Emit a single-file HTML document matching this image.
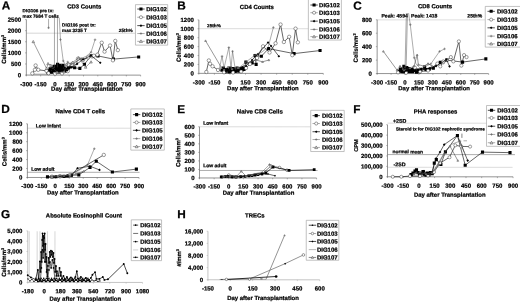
<!DOCTYPE html>
<html><head><meta charset="utf-8"><title>Figure</title>
<style>
html,body{margin:0;padding:0;background:#fff;}
body{width:520px;height:303px;overflow:hidden;font-family:"Liberation Sans",sans-serif;}
svg{display:block;filter:blur(0.3px);}
svg text{font-family:"Liberation Sans",sans-serif;font-weight:bold;text-rendering:geometricPrecision;stroke:#000;stroke-width:0.22px;}
svg polyline{stroke-linejoin:round;}
</style></head><body>
<svg width="520" height="303" viewBox="0 0 520 303">
<rect width="520" height="303" fill="#fff"/>
<g transform="rotate(0.03 260 151)">
<text x="1.6" y="9.6" font-size="11.8">A</text>
<text x="84.2" y="8.7" font-size="5.95" text-anchor="middle">CD3 Counts</text>
<path d="M26.3 33.3L135.4 33.3" stroke="#bbb" stroke-width="0.6"/>
<path d="M26.3 19.7L26.3 75.5" stroke="#666" stroke-width="0.7"/>
<path d="M26 75.2L140.6 75.2" stroke="#666" stroke-width="0.7"/>
<path d="M26.3 75.2L26.3 76.5" stroke="#666" stroke-width="0.5"/>
<text x="26.3" y="86.3" font-size="6" text-anchor="middle">-300</text>
<path d="M40.59 75.2L40.59 76.5" stroke="#666" stroke-width="0.5"/>
<text x="40.59" y="86.3" font-size="6" text-anchor="middle">-150</text>
<path d="M54.88 75.2L54.88 76.5" stroke="#666" stroke-width="0.5"/>
<text x="54.88" y="86.3" font-size="6" text-anchor="middle">0</text>
<path d="M69.16 75.2L69.16 76.5" stroke="#666" stroke-width="0.5"/>
<text x="69.16" y="86.3" font-size="6" text-anchor="middle">150</text>
<path d="M83.45 75.2L83.45 76.5" stroke="#666" stroke-width="0.5"/>
<text x="83.45" y="86.3" font-size="6" text-anchor="middle">300</text>
<path d="M97.74 75.2L97.74 76.5" stroke="#666" stroke-width="0.5"/>
<text x="97.74" y="86.3" font-size="6" text-anchor="middle">450</text>
<path d="M112.02 75.2L112.02 76.5" stroke="#666" stroke-width="0.5"/>
<text x="112.02" y="86.3" font-size="6" text-anchor="middle">600</text>
<path d="M126.31 75.2L126.31 76.5" stroke="#666" stroke-width="0.5"/>
<text x="126.31" y="86.3" font-size="6" text-anchor="middle">750</text>
<path d="M140.6 75.2L140.6 76.5" stroke="#666" stroke-width="0.5"/>
<text x="140.6" y="86.3" font-size="6" text-anchor="middle">900</text>
<path d="M25 75.2L26.3 75.2" stroke="#666" stroke-width="0.5"/>
<text x="21" y="77.35" font-size="6" text-anchor="end">0</text>
<path d="M25 64.1L26.3 64.1" stroke="#666" stroke-width="0.5"/>
<text x="21" y="66.25" font-size="6" text-anchor="end">500</text>
<path d="M25 53L26.3 53" stroke="#666" stroke-width="0.5"/>
<text x="21" y="55.15" font-size="6" text-anchor="end">1000</text>
<path d="M25 41.9L26.3 41.9" stroke="#666" stroke-width="0.5"/>
<text x="21" y="44.05" font-size="6" text-anchor="end">1500</text>
<path d="M25 30.8L26.3 30.8" stroke="#666" stroke-width="0.5"/>
<text x="21" y="32.95" font-size="6" text-anchor="end">2000</text>
<path d="M25 19.7L26.3 19.7" stroke="#666" stroke-width="0.5"/>
<text x="21" y="21.85" font-size="6" text-anchor="end">2500</text>
<text x="6" y="49.5" font-size="6.05" text-anchor="middle" transform="rotate(-90 6 49.5)">Cells/mm<tspan font-size="3.8" dy="-2">3</tspan></text>
<text x="86.9" y="90.8" font-size="5.98" text-anchor="middle">Day after Transplantation</text>
<text x="22.5" y="12.4" font-size="4.6">DIG106 pre tx:</text>
<text x="22.5" y="17.9" font-size="4.6">max 7684 T cells</text>
<text x="62" y="26.6" font-size="4.6">DIG106 post tx:</text>
<text x="62" y="32.1" font-size="4.6">max 3235 T</text>
<text x="118.8" y="32.1" font-size="4.7">25th%</text>
<polyline points="32.3,74.3 46,74.3" fill="none" stroke="#555" stroke-width="0.5"/>
<polyline points="48,73 49.5,71 50,69 51.5,72 52.5,68.5 53.5,71 54,66.5 55,69.5 55.5,72 56,66.5 57.3,69 57.5,64.5 58.5,65.6 58.5,71 59.5,68 60,65.5 60.5,70.5 61.3,69.6 62,67 63,71 63,65.5 64.8,68.5 65.5,71 66.5,69.5 68.5,68 71.1,66.7 74.6,67.9 79.8,68.5 84.4,64.4 91,55.8 97.9,56 113.4,59.2 138.6,57" fill="none" stroke="#000" stroke-width="0.6"/>
<rect x="46.45" y="71.45" width="3.1" height="3.1" fill="#000"/>
<rect x="47.95" y="69.45" width="3.1" height="3.1" fill="#000"/>
<rect x="48.45" y="67.45" width="3.1" height="3.1" fill="#000"/>
<rect x="49.95" y="70.45" width="3.1" height="3.1" fill="#000"/>
<rect x="50.95" y="66.95" width="3.1" height="3.1" fill="#000"/>
<rect x="51.95" y="69.45" width="3.1" height="3.1" fill="#000"/>
<rect x="52.45" y="64.95" width="3.1" height="3.1" fill="#000"/>
<rect x="53.45" y="67.95" width="3.1" height="3.1" fill="#000"/>
<rect x="53.95" y="70.45" width="3.1" height="3.1" fill="#000"/>
<rect x="54.45" y="64.95" width="3.1" height="3.1" fill="#000"/>
<rect x="55.75" y="67.45" width="3.1" height="3.1" fill="#000"/>
<rect x="55.95" y="62.95" width="3.1" height="3.1" fill="#000"/>
<rect x="56.95" y="64.05" width="3.1" height="3.1" fill="#000"/>
<rect x="56.95" y="69.45" width="3.1" height="3.1" fill="#000"/>
<rect x="57.95" y="66.45" width="3.1" height="3.1" fill="#000"/>
<rect x="58.45" y="63.95" width="3.1" height="3.1" fill="#000"/>
<rect x="58.95" y="68.95" width="3.1" height="3.1" fill="#000"/>
<rect x="59.75" y="68.05" width="3.1" height="3.1" fill="#000"/>
<rect x="60.45" y="65.45" width="3.1" height="3.1" fill="#000"/>
<rect x="61.45" y="69.45" width="3.1" height="3.1" fill="#000"/>
<rect x="61.45" y="63.95" width="3.1" height="3.1" fill="#000"/>
<rect x="63.25" y="66.95" width="3.1" height="3.1" fill="#000"/>
<rect x="63.95" y="69.45" width="3.1" height="3.1" fill="#000"/>
<rect x="64.95" y="67.95" width="3.1" height="3.1" fill="#000"/>
<rect x="66.95" y="66.45" width="3.1" height="3.1" fill="#000"/>
<rect x="69.55" y="65.15" width="3.1" height="3.1" fill="#000"/>
<rect x="73.05" y="66.35" width="3.1" height="3.1" fill="#000"/>
<rect x="78.25" y="66.95" width="3.1" height="3.1" fill="#000"/>
<rect x="82.85" y="62.85" width="3.1" height="3.1" fill="#000"/>
<rect x="89.45" y="54.25" width="3.1" height="3.1" fill="#000"/>
<rect x="96.35" y="54.45" width="3.1" height="3.1" fill="#000"/>
<rect x="111.85" y="57.65" width="3.1" height="3.1" fill="#000"/>
<rect x="137.05" y="55.45" width="3.1" height="3.1" fill="#000"/>
<polyline points="32.3,73.5 34.9,69.9 35.6,65.6 38.2,69.9 46.5,71 48.5,73.3 55,73.8 62,73.5 67.7,71.3 71.7,65 75.8,63.3 78,58.7 83,60 88,57.5 92,56.5 93.8,55.8 97.3,54.8 101.7,42.8 104.5,51.7 110,45.6 112.9,60.4 115.2,41 117.8,50.2" fill="none" stroke="#000" stroke-width="0.6"/>
<circle cx="32.3" cy="73.5" r="1.71" fill="#fff" stroke="#3a3a3a" stroke-width="0.5"/>
<circle cx="34.9" cy="69.9" r="1.71" fill="#fff" stroke="#3a3a3a" stroke-width="0.5"/>
<circle cx="35.6" cy="65.6" r="1.71" fill="#fff" stroke="#3a3a3a" stroke-width="0.5"/>
<circle cx="38.2" cy="69.9" r="1.71" fill="#fff" stroke="#3a3a3a" stroke-width="0.5"/>
<circle cx="46.5" cy="71" r="1.71" fill="#fff" stroke="#3a3a3a" stroke-width="0.5"/>
<circle cx="48.5" cy="73.3" r="1.71" fill="#fff" stroke="#3a3a3a" stroke-width="0.5"/>
<circle cx="55" cy="73.8" r="1.71" fill="#fff" stroke="#3a3a3a" stroke-width="0.5"/>
<circle cx="62" cy="73.5" r="1.71" fill="#fff" stroke="#3a3a3a" stroke-width="0.5"/>
<circle cx="67.7" cy="71.3" r="1.71" fill="#fff" stroke="#3a3a3a" stroke-width="0.5"/>
<circle cx="71.7" cy="65" r="1.71" fill="#fff" stroke="#3a3a3a" stroke-width="0.5"/>
<circle cx="75.8" cy="63.3" r="1.71" fill="#fff" stroke="#3a3a3a" stroke-width="0.5"/>
<circle cx="78" cy="58.7" r="1.71" fill="#fff" stroke="#3a3a3a" stroke-width="0.5"/>
<circle cx="83" cy="60" r="1.71" fill="#fff" stroke="#3a3a3a" stroke-width="0.5"/>
<circle cx="88" cy="57.5" r="1.71" fill="#fff" stroke="#3a3a3a" stroke-width="0.5"/>
<circle cx="92" cy="56.5" r="1.71" fill="#fff" stroke="#3a3a3a" stroke-width="0.5"/>
<circle cx="93.8" cy="55.8" r="1.71" fill="#fff" stroke="#3a3a3a" stroke-width="0.5"/>
<circle cx="97.3" cy="54.8" r="1.71" fill="#fff" stroke="#3a3a3a" stroke-width="0.5"/>
<circle cx="101.7" cy="42.8" r="1.71" fill="#fff" stroke="#3a3a3a" stroke-width="0.5"/>
<circle cx="104.5" cy="51.7" r="1.71" fill="#fff" stroke="#3a3a3a" stroke-width="0.5"/>
<circle cx="110" cy="45.6" r="1.71" fill="#fff" stroke="#3a3a3a" stroke-width="0.5"/>
<circle cx="112.9" cy="60.4" r="1.71" fill="#fff" stroke="#3a3a3a" stroke-width="0.5"/>
<circle cx="115.2" cy="41" r="1.71" fill="#fff" stroke="#3a3a3a" stroke-width="0.5"/>
<circle cx="117.8" cy="50.2" r="1.71" fill="#fff" stroke="#3a3a3a" stroke-width="0.5"/>
<polyline points="51,72.5 55,70.5 59,71.5 63,69.5 67,70.5 71,67.5 77,64 83,59.5 91,55.8 100.2,62.9" fill="none" stroke="#000" stroke-width="0.6"/>
<path d="M51 71.2L52.3 72.5L51 73.8L49.7 72.5Z" fill="#000"/>
<path d="M55 69.2L56.3 70.5L55 71.8L53.7 70.5Z" fill="#000"/>
<path d="M59 70.2L60.3 71.5L59 72.8L57.7 71.5Z" fill="#000"/>
<path d="M63 68.2L64.3 69.5L63 70.8L61.7 69.5Z" fill="#000"/>
<path d="M67 69.2L68.3 70.5L67 71.8L65.7 70.5Z" fill="#000"/>
<path d="M71 66.2L72.3 67.5L71 68.8L69.7 67.5Z" fill="#000"/>
<path d="M77 62.7L78.3 64L77 65.3L75.7 64Z" fill="#000"/>
<path d="M83 58.2L84.3 59.5L83 60.8L81.7 59.5Z" fill="#000"/>
<path d="M91 54.5L92.3 55.8L91 57.1L89.7 55.8Z" fill="#000"/>
<path d="M100.2 61.6L101.5 62.9L100.2 64.2L98.9 62.9Z" fill="#000"/>
<path d="M48.5 18.9L48.5 28.5" stroke="#5a5a5a" stroke-width="0.5"/>
<path d="M47.2 27.9H49.8M48.5 26.6V29.2" fill="none" stroke="#555" stroke-width="0.5"/>
<polyline points="50,66 52.5,69 54.4,67" fill="none" stroke="#5a5a5a" stroke-width="0.45"/>
<path d="M54.4 17.8L54.4 68" stroke="#555" stroke-width="0.5"/>
<path d="M57.4 17.8L57.4 67" stroke="#555" stroke-width="0.5"/>
<polyline points="59.2,17.8 60.4,39.7 63.2,61.1 66.5,66.5 67.7,62.1 71,64.5 76,62.5 81,58.5 86,56.5 91,52.3 95,39.8" fill="none" stroke="#5a5a5a" stroke-width="0.5"/>
<path d="M59.1 39.7H61.7M60.4 38.4V41" fill="none" stroke="#555" stroke-width="0.5"/>
<path d="M93.7 39.8H96.3M95 38.5V41.1" fill="none" stroke="#555" stroke-width="0.5"/>
<path d="M61.9 61.1H64.5M63.2 59.8V62.4" fill="none" stroke="#555" stroke-width="0.5"/>
<path d="M66.4 62.1H69M67.7 60.8V63.4" fill="none" stroke="#555" stroke-width="0.5"/>
<path d="M69.7 64.5H72.3M71 63.2V65.8" fill="none" stroke="#555" stroke-width="0.5"/>
<path d="M79.7 58.5H82.3M81 57.2V59.8" fill="none" stroke="#555" stroke-width="0.5"/>
<path d="M89.7 52.3H92.3M91 51V53.6" fill="none" stroke="#555" stroke-width="0.5"/>
<polyline points="33.2,41.8 46.5,68.6 48,63.8 50.8,65.4 57,72.5 64,72 66.5,64.5 72.5,62.5 78.6,58 85.6,67.3 91,62.1" fill="none" stroke="#444" stroke-width="0.5"/>
<path d="M33.2 40.52L34.48 42.82L31.93 42.82Z" fill="#ddd" stroke="#444" stroke-width="0.5"/>
<path d="M46.5 67.32L47.77 69.62L45.23 69.62Z" fill="#ddd" stroke="#444" stroke-width="0.5"/>
<path d="M48 62.52L49.27 64.82L46.73 64.82Z" fill="#ddd" stroke="#444" stroke-width="0.5"/>
<path d="M50.8 64.12L52.07 66.42L49.52 66.42Z" fill="#ddd" stroke="#444" stroke-width="0.5"/>
<path d="M57 71.22L58.27 73.52L55.73 73.52Z" fill="#ddd" stroke="#444" stroke-width="0.5"/>
<path d="M64 70.72L65.28 73.02L62.73 73.02Z" fill="#ddd" stroke="#444" stroke-width="0.5"/>
<path d="M66.5 63.23L67.78 65.52L65.22 65.52Z" fill="#ddd" stroke="#444" stroke-width="0.5"/>
<path d="M72.5 61.23L73.78 63.52L71.22 63.52Z" fill="#ddd" stroke="#444" stroke-width="0.5"/>
<path d="M78.6 56.73L79.88 59.02L77.32 59.02Z" fill="#ddd" stroke="#444" stroke-width="0.5"/>
<path d="M85.6 66.02L86.88 68.32L84.32 68.32Z" fill="#ddd" stroke="#444" stroke-width="0.5"/>
<path d="M91 60.83L92.28 63.12L89.72 63.12Z" fill="#ddd" stroke="#444" stroke-width="0.5"/>
<rect x="135.4" y="4.7" width="32.2" height="40.5" fill="#fff" stroke="#999" stroke-width="0.6"/>
<path d="M137.2 9.1L144.6 9.1" stroke="#000" stroke-width="0.7"/>
<rect x="139.35" y="7.55" width="3.1" height="3.1" fill="#000"/>
<text x="146.1" y="11.25" font-size="6">DIG102</text>
<path d="M137.2 17.3L144.6 17.3" stroke="#888" stroke-width="0.7"/>
<circle cx="140.9" cy="17.3" r="1.55" fill="#fff" stroke="#3a3a3a" stroke-width="0.5"/>
<text x="146.1" y="19.45" font-size="6">DIG103</text>
<path d="M137.2 25.7L144.6 25.7" stroke="#000" stroke-width="0.7"/>
<path d="M140.9 24.4L142.2 25.7L140.9 27L139.6 25.7Z" fill="#000"/>
<text x="146.1" y="27.85" font-size="6">DIG105</text>
<path d="M137.2 33.6L144.6 33.6" stroke="#888" stroke-width="0.7"/>
<path d="M139.6 33.6H142.2M140.9 32.3V34.9" fill="none" stroke="#555" stroke-width="0.5"/>
<text x="146.1" y="35.75" font-size="6">DIG106</text>
<path d="M137.2 41.4L144.6 41.4" stroke="#888" stroke-width="0.7"/>
<path d="M140.9 39.9L142.4 42.6L139.4 42.6Z" fill="#ddd" stroke="#444" stroke-width="0.5"/>
<text x="146.1" y="43.55" font-size="6">DIG107</text>
<text x="177.3" y="9.6" font-size="11.8">B</text>
<text x="256.8" y="9" font-size="5.95" text-anchor="middle">CD4 Counts</text>
<path d="M198.8 28.7L308.3 28.7" stroke="#c4c4c4" stroke-width="0.6"/>
<path d="M198.8 19.9L198.8 73.7" stroke="#666" stroke-width="0.7"/>
<path d="M198.5 73.4L323.3 73.4" stroke="#666" stroke-width="0.7"/>
<path d="M198.8 73.4L198.8 74.7" stroke="#666" stroke-width="0.5"/>
<text x="198.8" y="84.5" font-size="6" text-anchor="middle">-300</text>
<path d="M214.36 73.4L214.36 74.7" stroke="#666" stroke-width="0.5"/>
<text x="214.36" y="84.5" font-size="6" text-anchor="middle">-150</text>
<path d="M229.93 73.4L229.93 74.7" stroke="#666" stroke-width="0.5"/>
<text x="229.93" y="84.5" font-size="6" text-anchor="middle">0</text>
<path d="M245.49 73.4L245.49 74.7" stroke="#666" stroke-width="0.5"/>
<text x="245.49" y="84.5" font-size="6" text-anchor="middle">150</text>
<path d="M261.05 73.4L261.05 74.7" stroke="#666" stroke-width="0.5"/>
<text x="261.05" y="84.5" font-size="6" text-anchor="middle">300</text>
<path d="M276.61 73.4L276.61 74.7" stroke="#666" stroke-width="0.5"/>
<text x="276.61" y="84.5" font-size="6" text-anchor="middle">450</text>
<path d="M292.18 73.4L292.18 74.7" stroke="#666" stroke-width="0.5"/>
<text x="292.18" y="84.5" font-size="6" text-anchor="middle">600</text>
<path d="M307.74 73.4L307.74 74.7" stroke="#666" stroke-width="0.5"/>
<text x="307.74" y="84.5" font-size="6" text-anchor="middle">750</text>
<path d="M323.3 73.4L323.3 74.7" stroke="#666" stroke-width="0.5"/>
<text x="323.3" y="84.5" font-size="6" text-anchor="middle">900</text>
<path d="M197.5 73.4L198.8 73.4" stroke="#666" stroke-width="0.5"/>
<text x="193.8" y="75.55" font-size="6" text-anchor="end">0</text>
<path d="M197.5 64.48L198.8 64.48" stroke="#666" stroke-width="0.5"/>
<text x="193.8" y="66.63" font-size="6" text-anchor="end">200</text>
<path d="M197.5 55.57L198.8 55.57" stroke="#666" stroke-width="0.5"/>
<text x="193.8" y="57.72" font-size="6" text-anchor="end">400</text>
<path d="M197.5 46.65L198.8 46.65" stroke="#666" stroke-width="0.5"/>
<text x="193.8" y="48.8" font-size="6" text-anchor="end">600</text>
<path d="M197.5 37.73L198.8 37.73" stroke="#666" stroke-width="0.5"/>
<text x="193.8" y="39.88" font-size="6" text-anchor="end">800</text>
<path d="M197.5 28.82L198.8 28.82" stroke="#666" stroke-width="0.5"/>
<text x="193.8" y="30.97" font-size="6" text-anchor="end">1000</text>
<path d="M197.5 19.9L198.8 19.9" stroke="#666" stroke-width="0.5"/>
<text x="193.8" y="22.05" font-size="6" text-anchor="end">1200</text>
<text x="180.6" y="47.6" font-size="6.05" text-anchor="middle" transform="rotate(-90 180.6 47.6)">Cells/mm<tspan font-size="3.8" dy="-2">3</tspan></text>
<text x="262.9" y="90.3" font-size="5.98" text-anchor="middle">Day after Transplantation</text>
<text x="207" y="27.3" font-size="4.7">25th%</text>
<polyline points="222,70 223.5,68 225,72 226.5,69.5 228,70 229,72 230,68 231,70 232,71 233,68.5 234,69 235,71.5 236,71 237,68 238,69 239,71 240,71 241,68.5 242,70 243,67.5 244,69.5 245.8,62.1 252.1,62.9 256.1,64.4 255,55.6 261.3,56.3 268.5,48.6 294,53.6 320,50.5" fill="none" stroke="#000" stroke-width="0.6"/>
<rect x="220.45" y="68.45" width="3.1" height="3.1" fill="#000"/>
<rect x="221.95" y="66.45" width="3.1" height="3.1" fill="#000"/>
<rect x="223.45" y="70.45" width="3.1" height="3.1" fill="#000"/>
<rect x="224.95" y="67.95" width="3.1" height="3.1" fill="#000"/>
<rect x="226.45" y="68.45" width="3.1" height="3.1" fill="#000"/>
<rect x="227.45" y="70.45" width="3.1" height="3.1" fill="#000"/>
<rect x="228.45" y="66.45" width="3.1" height="3.1" fill="#000"/>
<rect x="229.45" y="68.45" width="3.1" height="3.1" fill="#000"/>
<rect x="230.45" y="69.45" width="3.1" height="3.1" fill="#000"/>
<rect x="231.45" y="66.95" width="3.1" height="3.1" fill="#000"/>
<rect x="232.45" y="67.45" width="3.1" height="3.1" fill="#000"/>
<rect x="233.45" y="69.95" width="3.1" height="3.1" fill="#000"/>
<rect x="234.45" y="69.45" width="3.1" height="3.1" fill="#000"/>
<rect x="235.45" y="66.45" width="3.1" height="3.1" fill="#000"/>
<rect x="236.45" y="67.45" width="3.1" height="3.1" fill="#000"/>
<rect x="237.45" y="69.45" width="3.1" height="3.1" fill="#000"/>
<rect x="238.45" y="69.45" width="3.1" height="3.1" fill="#000"/>
<rect x="239.45" y="66.95" width="3.1" height="3.1" fill="#000"/>
<rect x="240.45" y="68.45" width="3.1" height="3.1" fill="#000"/>
<rect x="241.45" y="65.95" width="3.1" height="3.1" fill="#000"/>
<rect x="242.45" y="67.95" width="3.1" height="3.1" fill="#000"/>
<rect x="244.25" y="60.55" width="3.1" height="3.1" fill="#000"/>
<rect x="250.55" y="61.35" width="3.1" height="3.1" fill="#000"/>
<rect x="254.55" y="62.85" width="3.1" height="3.1" fill="#000"/>
<rect x="253.45" y="54.05" width="3.1" height="3.1" fill="#000"/>
<rect x="259.75" y="54.75" width="3.1" height="3.1" fill="#000"/>
<rect x="266.95" y="47.05" width="3.1" height="3.1" fill="#000"/>
<rect x="292.45" y="52.05" width="3.1" height="3.1" fill="#000"/>
<rect x="318.45" y="48.95" width="3.1" height="3.1" fill="#000"/>
<polyline points="206.3,72 208.8,60.5 210,63.8 212.5,66.3 218,70 224,72.3 233,72.5 241,71.5 246,68 250,64 257,58 263,46.3 269.5,52.5 275.5,43.3 280.5,24.5 283.8,42 289.1,36.8 292.2,55.2 295.5,28.6 297.8,42.3" fill="none" stroke="#000" stroke-width="0.6"/>
<circle cx="206.3" cy="72" r="1.71" fill="#fff" stroke="#3a3a3a" stroke-width="0.5"/>
<circle cx="208.8" cy="60.5" r="1.71" fill="#fff" stroke="#3a3a3a" stroke-width="0.5"/>
<circle cx="210" cy="63.8" r="1.71" fill="#fff" stroke="#3a3a3a" stroke-width="0.5"/>
<circle cx="212.5" cy="66.3" r="1.71" fill="#fff" stroke="#3a3a3a" stroke-width="0.5"/>
<circle cx="218" cy="70" r="1.71" fill="#fff" stroke="#3a3a3a" stroke-width="0.5"/>
<circle cx="224" cy="72.3" r="1.71" fill="#fff" stroke="#3a3a3a" stroke-width="0.5"/>
<circle cx="233" cy="72.5" r="1.71" fill="#fff" stroke="#3a3a3a" stroke-width="0.5"/>
<circle cx="241" cy="71.5" r="1.71" fill="#fff" stroke="#3a3a3a" stroke-width="0.5"/>
<circle cx="246" cy="68" r="1.71" fill="#fff" stroke="#3a3a3a" stroke-width="0.5"/>
<circle cx="250" cy="64" r="1.71" fill="#fff" stroke="#3a3a3a" stroke-width="0.5"/>
<circle cx="257" cy="58" r="1.71" fill="#fff" stroke="#3a3a3a" stroke-width="0.5"/>
<circle cx="263" cy="46.3" r="1.71" fill="#fff" stroke="#3a3a3a" stroke-width="0.5"/>
<circle cx="269.5" cy="52.5" r="1.71" fill="#fff" stroke="#3a3a3a" stroke-width="0.5"/>
<circle cx="275.5" cy="43.3" r="1.71" fill="#fff" stroke="#3a3a3a" stroke-width="0.5"/>
<circle cx="280.5" cy="24.5" r="1.71" fill="#fff" stroke="#3a3a3a" stroke-width="0.5"/>
<circle cx="283.8" cy="42" r="1.71" fill="#fff" stroke="#3a3a3a" stroke-width="0.5"/>
<circle cx="289.1" cy="36.8" r="1.71" fill="#fff" stroke="#3a3a3a" stroke-width="0.5"/>
<circle cx="292.2" cy="55.2" r="1.71" fill="#fff" stroke="#3a3a3a" stroke-width="0.5"/>
<circle cx="295.5" cy="28.6" r="1.71" fill="#fff" stroke="#3a3a3a" stroke-width="0.5"/>
<circle cx="297.8" cy="42.3" r="1.71" fill="#fff" stroke="#3a3a3a" stroke-width="0.5"/>
<polyline points="226,71 230,72 234,70 238,71 242,69 246,66 252,60 258,54 268,42.5 271,46 278.8,56.3" fill="none" stroke="#000" stroke-width="0.6"/>
<path d="M226 69.7L227.3 71L226 72.3L224.7 71Z" fill="#000"/>
<path d="M230 70.7L231.3 72L230 73.3L228.7 72Z" fill="#000"/>
<path d="M234 68.7L235.3 70L234 71.3L232.7 70Z" fill="#000"/>
<path d="M238 69.7L239.3 71L238 72.3L236.7 71Z" fill="#000"/>
<path d="M242 67.7L243.3 69L242 70.3L240.7 69Z" fill="#000"/>
<path d="M246 64.7L247.3 66L246 67.3L244.7 66Z" fill="#000"/>
<path d="M252 58.7L253.3 60L252 61.3L250.7 60Z" fill="#000"/>
<path d="M258 52.7L259.3 54L258 55.3L256.7 54Z" fill="#000"/>
<path d="M268 41.2L269.3 42.5L268 43.8L266.7 42.5Z" fill="#000"/>
<path d="M271 44.7L272.3 46L271 47.3L269.7 46Z" fill="#000"/>
<path d="M278.8 55L280.1 56.3L278.8 57.6L277.5 56.3Z" fill="#000"/>
<polyline points="219,70 222,56.3 224,68 228.8,47.5 231,68 232.5,51.3 235,68 240,67 246,62 255,55 262,52 268.2,46.8 273.3,27.4" fill="none" stroke="#5a5a5a" stroke-width="0.5"/>
<path d="M220.7 56.3H223.3M222 55V57.6" fill="none" stroke="#555" stroke-width="0.5"/>
<path d="M227.5 47.5H230.1M228.8 46.2V48.8" fill="none" stroke="#555" stroke-width="0.5"/>
<path d="M231.2 51.3H233.8M232.5 50V52.6" fill="none" stroke="#555" stroke-width="0.5"/>
<path d="M253.7 55H256.3M255 53.7V56.3" fill="none" stroke="#555" stroke-width="0.5"/>
<path d="M272 27.4H274.6M273.3 26.1V28.7" fill="none" stroke="#555" stroke-width="0.5"/>
<path d="M244.7 62H247.3M246 60.7V63.3" fill="none" stroke="#555" stroke-width="0.5"/>
<polyline points="205.5,40.8 221.3,67.5 224,70 228,67 232,69 238,68 244,66 250,62 256,60 262.5,61.8 268.8,60" fill="none" stroke="#333" stroke-width="0.5"/>
<path d="M205.5 39.9L206.4 41.52L204.6 41.52Z" fill="#ddd" stroke="#444" stroke-width="0.5"/>
<path d="M221.3 66.6L222.2 68.22L220.4 68.22Z" fill="#ddd" stroke="#444" stroke-width="0.5"/>
<path d="M224 69.1L224.9 70.72L223.1 70.72Z" fill="#ddd" stroke="#444" stroke-width="0.5"/>
<path d="M228 66.1L228.9 67.72L227.1 67.72Z" fill="#ddd" stroke="#444" stroke-width="0.5"/>
<path d="M232 68.1L232.9 69.72L231.1 69.72Z" fill="#ddd" stroke="#444" stroke-width="0.5"/>
<path d="M238 67.1L238.9 68.72L237.1 68.72Z" fill="#ddd" stroke="#444" stroke-width="0.5"/>
<path d="M244 65.1L244.9 66.72L243.1 66.72Z" fill="#ddd" stroke="#444" stroke-width="0.5"/>
<path d="M250 61.1L250.9 62.72L249.1 62.72Z" fill="#ddd" stroke="#444" stroke-width="0.5"/>
<path d="M256 59.1L256.9 60.72L255.1 60.72Z" fill="#ddd" stroke="#444" stroke-width="0.5"/>
<path d="M262.5 60.9L263.4 62.52L261.6 62.52Z" fill="#ddd" stroke="#444" stroke-width="0.5"/>
<path d="M268.8 59.1L269.7 60.72L267.9 60.72Z" fill="#ddd" stroke="#444" stroke-width="0.5"/>
<rect x="308.3" y="-1" width="33" height="41" fill="#fff" stroke="#999" stroke-width="0.6"/>
<path d="M310.3 5L317.7 5" stroke="#000" stroke-width="0.7"/>
<rect x="312.45" y="3.45" width="3.1" height="3.1" fill="#000"/>
<text x="319" y="7.15" font-size="6">DIG102</text>
<path d="M310.3 12.7L317.7 12.7" stroke="#888" stroke-width="0.7"/>
<circle cx="314" cy="12.7" r="1.55" fill="#fff" stroke="#3a3a3a" stroke-width="0.5"/>
<text x="319" y="14.85" font-size="6">DIG103</text>
<path d="M310.3 21.1L317.7 21.1" stroke="#000" stroke-width="0.7"/>
<path d="M314 19.8L315.3 21.1L314 22.4L312.7 21.1Z" fill="#000"/>
<text x="319" y="23.25" font-size="6">DIG105</text>
<path d="M310.3 29.4L317.7 29.4" stroke="#888" stroke-width="0.7"/>
<path d="M312.7 29.4H315.3M314 28.1V30.7" fill="none" stroke="#555" stroke-width="0.5"/>
<text x="319" y="31.55" font-size="6">DIG106</text>
<path d="M310.3 36.6L317.7 36.6" stroke="#888" stroke-width="0.7"/>
<path d="M314 35.1L315.5 37.8L312.5 37.8Z" fill="#ddd" stroke="#444" stroke-width="0.5"/>
<text x="319" y="38.75" font-size="6">DIG107</text>
<text x="353.2" y="9.6" font-size="11.8">C</text>
<text x="434.9" y="8.2" font-size="5.95" text-anchor="middle">CD8 Counts</text>
<path d="M377.1 19.8L485.2 19.8" stroke="#c8c8c8" stroke-width="0.6"/>
<path d="M377.1 19.7L377.1 73.8" stroke="#666" stroke-width="0.7"/>
<path d="M376.8 73.5L488.6 73.5" stroke="#666" stroke-width="0.7"/>
<path d="M377.1 73.5L377.1 74.8" stroke="#666" stroke-width="0.5"/>
<text x="377.1" y="84.4" font-size="6" text-anchor="middle">-300</text>
<path d="M391.04 73.5L391.04 74.8" stroke="#666" stroke-width="0.5"/>
<text x="391.04" y="84.4" font-size="6" text-anchor="middle">-150</text>
<path d="M404.98 73.5L404.98 74.8" stroke="#666" stroke-width="0.5"/>
<text x="404.98" y="84.4" font-size="6" text-anchor="middle">0</text>
<path d="M418.91 73.5L418.91 74.8" stroke="#666" stroke-width="0.5"/>
<text x="418.91" y="84.4" font-size="6" text-anchor="middle">150</text>
<path d="M432.85 73.5L432.85 74.8" stroke="#666" stroke-width="0.5"/>
<text x="432.85" y="84.4" font-size="6" text-anchor="middle">300</text>
<path d="M446.79 73.5L446.79 74.8" stroke="#666" stroke-width="0.5"/>
<text x="446.79" y="84.4" font-size="6" text-anchor="middle">450</text>
<path d="M460.73 73.5L460.73 74.8" stroke="#666" stroke-width="0.5"/>
<text x="460.73" y="84.4" font-size="6" text-anchor="middle">600</text>
<path d="M474.66 73.5L474.66 74.8" stroke="#666" stroke-width="0.5"/>
<text x="474.66" y="84.4" font-size="6" text-anchor="middle">750</text>
<path d="M488.6 73.5L488.6 74.8" stroke="#666" stroke-width="0.5"/>
<text x="488.6" y="84.4" font-size="6" text-anchor="middle">900</text>
<path d="M375.8 73.5L377.1 73.5" stroke="#666" stroke-width="0.5"/>
<text x="371.9" y="75.65" font-size="6" text-anchor="end">0</text>
<path d="M375.8 60.05L377.1 60.05" stroke="#666" stroke-width="0.5"/>
<text x="371.9" y="62.2" font-size="6" text-anchor="end">200</text>
<path d="M375.8 46.6L377.1 46.6" stroke="#666" stroke-width="0.5"/>
<text x="371.9" y="48.75" font-size="6" text-anchor="end">400</text>
<path d="M375.8 33.15L377.1 33.15" stroke="#666" stroke-width="0.5"/>
<text x="371.9" y="35.3" font-size="6" text-anchor="end">600</text>
<path d="M375.8 19.7L377.1 19.7" stroke="#666" stroke-width="0.5"/>
<text x="371.9" y="21.85" font-size="6" text-anchor="end">800</text>
<text x="357.8" y="47.9" font-size="6.05" text-anchor="middle" transform="rotate(-90 357.8 47.9)">Cells/mm<tspan font-size="3.8" dy="-2">3</tspan></text>
<text x="434.1" y="90.1" font-size="5.98" text-anchor="middle">Day after Transplantation</text>
<text x="381.4" y="17.4" font-size="5.1">Peak: 4594</text>
<text x="411" y="17.4" font-size="5.1">Peak: 1418</text>
<text x="467.3" y="17.4" font-size="5">25th%</text>
<polyline points="399,71 400.5,69 402,71.5 403.8,66.3 404,69.5 405.5,71.5 406.7,67.5 407.5,70 409,68.5 409.5,71.5 411,69.5 412.5,71.5 413.5,69 415,70.5 416.5,72 418,70 419.5,71.5 421,69.5 424.6,66.9 426,69.5 429.2,69.2 433.3,68 440.2,62.3 446.5,60 462.5,62 485.8,58.8" fill="none" stroke="#000" stroke-width="0.6"/>
<rect x="397.45" y="69.45" width="3.1" height="3.1" fill="#000"/>
<rect x="398.95" y="67.45" width="3.1" height="3.1" fill="#000"/>
<rect x="400.45" y="69.95" width="3.1" height="3.1" fill="#000"/>
<rect x="402.25" y="64.75" width="3.1" height="3.1" fill="#000"/>
<rect x="402.45" y="67.95" width="3.1" height="3.1" fill="#000"/>
<rect x="403.95" y="69.95" width="3.1" height="3.1" fill="#000"/>
<rect x="405.15" y="65.95" width="3.1" height="3.1" fill="#000"/>
<rect x="405.95" y="68.45" width="3.1" height="3.1" fill="#000"/>
<rect x="407.45" y="66.95" width="3.1" height="3.1" fill="#000"/>
<rect x="407.95" y="69.95" width="3.1" height="3.1" fill="#000"/>
<rect x="409.45" y="67.95" width="3.1" height="3.1" fill="#000"/>
<rect x="410.95" y="69.95" width="3.1" height="3.1" fill="#000"/>
<rect x="411.95" y="67.45" width="3.1" height="3.1" fill="#000"/>
<rect x="413.45" y="68.95" width="3.1" height="3.1" fill="#000"/>
<rect x="414.95" y="70.45" width="3.1" height="3.1" fill="#000"/>
<rect x="416.45" y="68.45" width="3.1" height="3.1" fill="#000"/>
<rect x="417.95" y="69.95" width="3.1" height="3.1" fill="#000"/>
<rect x="419.45" y="67.95" width="3.1" height="3.1" fill="#000"/>
<rect x="423.05" y="65.35" width="3.1" height="3.1" fill="#000"/>
<rect x="424.45" y="67.95" width="3.1" height="3.1" fill="#000"/>
<rect x="427.65" y="67.65" width="3.1" height="3.1" fill="#000"/>
<rect x="431.75" y="66.45" width="3.1" height="3.1" fill="#000"/>
<rect x="438.65" y="60.75" width="3.1" height="3.1" fill="#000"/>
<rect x="444.95" y="58.45" width="3.1" height="3.1" fill="#000"/>
<rect x="460.95" y="60.45" width="3.1" height="3.1" fill="#000"/>
<rect x="484.25" y="57.25" width="3.1" height="3.1" fill="#000"/>
<polyline points="398,72.3 406,72.8 414.8,67.5 420,71.5 428,70.5 437.3,63.5 440.2,66.3 443,62.3 443.3,61.3 447,60 450.8,57 453.3,61.3 458.8,41.3 461.3,65.5 464,55 466.5,57" fill="none" stroke="#000" stroke-width="0.6"/>
<circle cx="398" cy="72.3" r="1.63" fill="#fff" stroke="#3a3a3a" stroke-width="0.5"/>
<circle cx="406" cy="72.8" r="1.63" fill="#fff" stroke="#3a3a3a" stroke-width="0.5"/>
<circle cx="414.8" cy="67.5" r="1.63" fill="#fff" stroke="#3a3a3a" stroke-width="0.5"/>
<circle cx="420" cy="71.5" r="1.63" fill="#fff" stroke="#3a3a3a" stroke-width="0.5"/>
<circle cx="428" cy="70.5" r="1.63" fill="#fff" stroke="#3a3a3a" stroke-width="0.5"/>
<circle cx="437.3" cy="63.5" r="1.63" fill="#fff" stroke="#3a3a3a" stroke-width="0.5"/>
<circle cx="440.2" cy="66.3" r="1.63" fill="#fff" stroke="#3a3a3a" stroke-width="0.5"/>
<circle cx="443" cy="62.3" r="1.63" fill="#fff" stroke="#3a3a3a" stroke-width="0.5"/>
<circle cx="443.3" cy="61.3" r="1.63" fill="#fff" stroke="#3a3a3a" stroke-width="0.5"/>
<circle cx="447" cy="60" r="1.63" fill="#fff" stroke="#3a3a3a" stroke-width="0.5"/>
<circle cx="450.8" cy="57" r="1.63" fill="#fff" stroke="#3a3a3a" stroke-width="0.5"/>
<circle cx="453.3" cy="61.3" r="1.63" fill="#fff" stroke="#3a3a3a" stroke-width="0.5"/>
<circle cx="458.8" cy="41.3" r="1.63" fill="#fff" stroke="#3a3a3a" stroke-width="0.5"/>
<circle cx="461.3" cy="65.5" r="1.63" fill="#fff" stroke="#3a3a3a" stroke-width="0.5"/>
<circle cx="464" cy="55" r="1.63" fill="#fff" stroke="#3a3a3a" stroke-width="0.5"/>
<circle cx="466.5" cy="57" r="1.63" fill="#fff" stroke="#3a3a3a" stroke-width="0.5"/>
<polyline points="400,71 404,72 408,70 412,71 418,70 424,69 430,68 436,66 446.5,59.5 449.5,66.3" fill="none" stroke="#000" stroke-width="0.6"/>
<path d="M400 69.7L401.3 71L400 72.3L398.7 71Z" fill="#000"/>
<path d="M404 70.7L405.3 72L404 73.3L402.7 72Z" fill="#000"/>
<path d="M408 68.7L409.3 70L408 71.3L406.7 70Z" fill="#000"/>
<path d="M412 69.7L413.3 71L412 72.3L410.7 71Z" fill="#000"/>
<path d="M418 68.7L419.3 70L418 71.3L416.7 70Z" fill="#000"/>
<path d="M424 67.7L425.3 69L424 70.3L422.7 69Z" fill="#000"/>
<path d="M430 66.7L431.3 68L430 69.3L428.7 68Z" fill="#000"/>
<path d="M436 64.7L437.3 66L436 67.3L434.7 66Z" fill="#000"/>
<path d="M446.5 58.2L447.8 59.5L446.5 60.8L445.2 59.5Z" fill="#000"/>
<path d="M449.5 65L450.8 66.3L449.5 67.6L448.2 66.3Z" fill="#000"/>
<path d="M406.3 13L405 68" stroke="#555" stroke-width="0.5"/>
<path d="M407.4 13L406.1 67" stroke="#555" stroke-width="0.5"/>
<polyline points="402,70 405.2,67" fill="none" stroke="#5a5a5a" stroke-width="0.5"/>
<polyline points="408.5,13 410.2,24.6 414.2,57.7 416,64 420,68 426,66 430.8,63.8 439.5,51.3 444.5,48.8" fill="none" stroke="#5a5a5a" stroke-width="0.5"/>
<path d="M408.9 24.6H411.5M410.2 23.3V25.9" fill="none" stroke="#555" stroke-width="0.5"/>
<path d="M412.9 57.7H415.5M414.2 56.4V59" fill="none" stroke="#555" stroke-width="0.5"/>
<path d="M438.2 51.3H440.8M439.5 50V52.6" fill="none" stroke="#555" stroke-width="0.5"/>
<path d="M443.2 48.8H445.8M444.5 47.5V50.1" fill="none" stroke="#555" stroke-width="0.5"/>
<path d="M429.5 63.8H432.1M430.8 62.5V65.1" fill="none" stroke="#555" stroke-width="0.5"/>
<polyline points="383.3,51.3 397,70 400,66 404,70 410,68 414,66 417.1,54.8 418.3,64.6 424,66 428,63.5 432,66" fill="none" stroke="#333" stroke-width="0.5"/>
<path d="M383.3 50.4L384.2 52.02L382.4 52.02Z" fill="#ddd" stroke="#444" stroke-width="0.5"/>
<path d="M397 69.1L397.9 70.72L396.1 70.72Z" fill="#ddd" stroke="#444" stroke-width="0.5"/>
<path d="M400 65.1L400.9 66.72L399.1 66.72Z" fill="#ddd" stroke="#444" stroke-width="0.5"/>
<path d="M404 69.1L404.9 70.72L403.1 70.72Z" fill="#ddd" stroke="#444" stroke-width="0.5"/>
<path d="M410 67.1L410.9 68.72L409.1 68.72Z" fill="#ddd" stroke="#444" stroke-width="0.5"/>
<path d="M414 65.1L414.9 66.72L413.1 66.72Z" fill="#ddd" stroke="#444" stroke-width="0.5"/>
<path d="M417.1 53.9L418 55.52L416.2 55.52Z" fill="#ddd" stroke="#444" stroke-width="0.5"/>
<path d="M418.3 63.7L419.2 65.32L417.4 65.32Z" fill="#ddd" stroke="#444" stroke-width="0.5"/>
<path d="M424 65.1L424.9 66.72L423.1 66.72Z" fill="#ddd" stroke="#444" stroke-width="0.5"/>
<path d="M428 62.6L428.9 64.22L427.1 64.22Z" fill="#ddd" stroke="#444" stroke-width="0.5"/>
<path d="M432 65.1L432.9 66.72L431.1 66.72Z" fill="#ddd" stroke="#444" stroke-width="0.5"/>
<rect x="485.2" y="6.3" width="35.5" height="40.7" fill="#fff" stroke="#999" stroke-width="0.6"/>
<path d="M487.4 11.2L494.8 11.2" stroke="#000" stroke-width="0.7"/>
<rect x="489.55" y="9.65" width="3.1" height="3.1" fill="#000"/>
<text x="496.9" y="13.35" font-size="6">DIG102</text>
<path d="M487.4 19.5L494.8 19.5" stroke="#888" stroke-width="0.7"/>
<circle cx="491.1" cy="19.5" r="1.55" fill="#fff" stroke="#3a3a3a" stroke-width="0.5"/>
<text x="496.9" y="21.65" font-size="6">DIG103</text>
<path d="M487.4 27.7L494.8 27.7" stroke="#000" stroke-width="0.7"/>
<path d="M491.1 26.4L492.4 27.7L491.1 29L489.8 27.7Z" fill="#000"/>
<text x="496.9" y="29.85" font-size="6">DIG105</text>
<path d="M487.4 36L494.8 36" stroke="#888" stroke-width="0.7"/>
<path d="M489.8 36H492.4M491.1 34.7V37.3" fill="none" stroke="#555" stroke-width="0.5"/>
<text x="496.9" y="38.15" font-size="6">DIG106</text>
<path d="M487.4 43.7L494.8 43.7" stroke="#888" stroke-width="0.7"/>
<path d="M491.1 42.2L492.6 44.9L489.6 44.9Z" fill="#ddd" stroke="#444" stroke-width="0.5"/>
<text x="496.9" y="45.85" font-size="6">DIG107</text>
<text x="1.2" y="113.2" font-size="11.8">D</text>
<text x="80.3" y="113.4" font-size="5.95" text-anchor="middle">Naive CD4 T cells</text>
<path d="M27.4 128.3L130.8 128.3" stroke="#c4c4c4" stroke-width="0.6"/>
<path d="M27.4 172.4L139.6 172.4" stroke="#777" stroke-width="0.6"/>
<path d="M27.4 123.9L27.4 177.9" stroke="#666" stroke-width="0.7"/>
<path d="M27.1 177.6L139.1 177.6" stroke="#666" stroke-width="0.7"/>
<path d="M27.4 177.6L27.4 178.9" stroke="#666" stroke-width="0.5"/>
<text x="27.4" y="188.2" font-size="6" text-anchor="middle">-300</text>
<path d="M41.36 177.6L41.36 178.9" stroke="#666" stroke-width="0.5"/>
<text x="41.36" y="188.2" font-size="6" text-anchor="middle">-150</text>
<path d="M55.32 177.6L55.32 178.9" stroke="#666" stroke-width="0.5"/>
<text x="55.32" y="188.2" font-size="6" text-anchor="middle">0</text>
<path d="M69.29 177.6L69.29 178.9" stroke="#666" stroke-width="0.5"/>
<text x="69.29" y="188.2" font-size="6" text-anchor="middle">150</text>
<path d="M83.25 177.6L83.25 178.9" stroke="#666" stroke-width="0.5"/>
<text x="83.25" y="188.2" font-size="6" text-anchor="middle">300</text>
<path d="M97.21 177.6L97.21 178.9" stroke="#666" stroke-width="0.5"/>
<text x="97.21" y="188.2" font-size="6" text-anchor="middle">450</text>
<path d="M111.17 177.6L111.17 178.9" stroke="#666" stroke-width="0.5"/>
<text x="111.17" y="188.2" font-size="6" text-anchor="middle">600</text>
<path d="M125.14 177.6L125.14 178.9" stroke="#666" stroke-width="0.5"/>
<text x="125.14" y="188.2" font-size="6" text-anchor="middle">750</text>
<path d="M139.1 177.6L139.1 178.9" stroke="#666" stroke-width="0.5"/>
<text x="139.1" y="188.2" font-size="6" text-anchor="middle">900</text>
<path d="M26.1 177.6L27.4 177.6" stroke="#666" stroke-width="0.5"/>
<text x="22.4" y="179.75" font-size="6" text-anchor="end">0</text>
<path d="M26.1 168.65L27.4 168.65" stroke="#666" stroke-width="0.5"/>
<text x="22.4" y="170.8" font-size="6" text-anchor="end">200</text>
<path d="M26.1 159.7L27.4 159.7" stroke="#666" stroke-width="0.5"/>
<text x="22.4" y="161.85" font-size="6" text-anchor="end">400</text>
<path d="M26.1 150.75L27.4 150.75" stroke="#666" stroke-width="0.5"/>
<text x="22.4" y="152.9" font-size="6" text-anchor="end">600</text>
<path d="M26.1 141.8L27.4 141.8" stroke="#666" stroke-width="0.5"/>
<text x="22.4" y="143.95" font-size="6" text-anchor="end">800</text>
<path d="M26.1 132.85L27.4 132.85" stroke="#666" stroke-width="0.5"/>
<text x="22.4" y="135" font-size="6" text-anchor="end">1000</text>
<path d="M26.1 123.9L27.4 123.9" stroke="#666" stroke-width="0.5"/>
<text x="22.4" y="126.05" font-size="6" text-anchor="end">1200</text>
<text x="6.6" y="151.8" font-size="6.05" text-anchor="middle" transform="rotate(-90 6.6 151.8)">Cells/mm<tspan font-size="3.8" dy="-2">3</tspan></text>
<text x="82.9" y="194.6" font-size="5.98" text-anchor="middle">Day after Transplantation</text>
<text x="35.8" y="127.6" font-size="5">Low infant</text>
<text x="31.2" y="170.9" font-size="5">Low adult</text>
<polyline points="47.5,177 52,177 56,176.8 60,176.5 64,176.5 68,176 71.3,175.5 78.8,175 90,167.5 96.3,161.3 112.4,172.1 136.4,169.2" fill="none" stroke="#000" stroke-width="0.6"/>
<rect x="45.95" y="175.45" width="3.1" height="3.1" fill="#000"/>
<rect x="50.45" y="175.45" width="3.1" height="3.1" fill="#000"/>
<rect x="54.45" y="175.25" width="3.1" height="3.1" fill="#000"/>
<rect x="58.45" y="174.95" width="3.1" height="3.1" fill="#000"/>
<rect x="62.45" y="174.95" width="3.1" height="3.1" fill="#000"/>
<rect x="66.45" y="174.45" width="3.1" height="3.1" fill="#000"/>
<rect x="69.75" y="173.95" width="3.1" height="3.1" fill="#000"/>
<rect x="77.25" y="173.45" width="3.1" height="3.1" fill="#000"/>
<rect x="88.45" y="165.95" width="3.1" height="3.1" fill="#000"/>
<rect x="94.75" y="159.75" width="3.1" height="3.1" fill="#000"/>
<rect x="110.85" y="170.55" width="3.1" height="3.1" fill="#000"/>
<rect x="134.85" y="167.65" width="3.1" height="3.1" fill="#000"/>
<polyline points="52,176.8 60,176.5 70,175 103.8,155" fill="none" stroke="#000" stroke-width="0.6"/>
<circle cx="52" cy="176.8" r="1.71" fill="#fff" stroke="#3a3a3a" stroke-width="0.5"/>
<circle cx="60" cy="176.5" r="1.71" fill="#fff" stroke="#3a3a3a" stroke-width="0.5"/>
<circle cx="70" cy="175" r="1.71" fill="#fff" stroke="#3a3a3a" stroke-width="0.5"/>
<circle cx="103.8" cy="155" r="1.71" fill="#fff" stroke="#3a3a3a" stroke-width="0.5"/>
<polyline points="48,177 54,177 60,176.5 66,176.5 72,175 77.5,168.3 90,166.3 99.5,170" fill="none" stroke="#000" stroke-width="0.6"/>
<path d="M48 175.7L49.3 177L48 178.3L46.7 177Z" fill="#000"/>
<path d="M54 175.7L55.3 177L54 178.3L52.7 177Z" fill="#000"/>
<path d="M60 175.2L61.3 176.5L60 177.8L58.7 176.5Z" fill="#000"/>
<path d="M66 175.2L67.3 176.5L66 177.8L64.7 176.5Z" fill="#000"/>
<path d="M72 173.7L73.3 175L72 176.3L70.7 175Z" fill="#000"/>
<path d="M77.5 167L78.8 168.3L77.5 169.6L76.2 168.3Z" fill="#000"/>
<path d="M90 165L91.3 166.3L90 167.6L88.7 166.3Z" fill="#000"/>
<path d="M99.5 168.7L100.8 170L99.5 171.3L98.2 170Z" fill="#000"/>
<polyline points="50,177 60,176.5 70,175 80,170 87.5,165 94.3,148.8" fill="none" stroke="#5a5a5a" stroke-width="0.5"/>
<path d="M93 148.8H95.6M94.3 147.5V150.1" fill="none" stroke="#555" stroke-width="0.5"/>
<path d="M86.2 165H88.8M87.5 163.7V166.3" fill="none" stroke="#555" stroke-width="0.5"/>
<polyline points="52,176.5 58,176.5 64,176 70,175.5 76,174 83.8,171.3" fill="none" stroke="#333" stroke-width="0.5"/>
<path d="M52 175.6L52.9 177.22L51.1 177.22Z" fill="#ddd" stroke="#444" stroke-width="0.5"/>
<path d="M58 175.6L58.9 177.22L57.1 177.22Z" fill="#ddd" stroke="#444" stroke-width="0.5"/>
<path d="M64 175.1L64.9 176.72L63.1 176.72Z" fill="#ddd" stroke="#444" stroke-width="0.5"/>
<path d="M70 174.6L70.9 176.22L69.1 176.22Z" fill="#ddd" stroke="#444" stroke-width="0.5"/>
<path d="M76 173.1L76.9 174.72L75.1 174.72Z" fill="#ddd" stroke="#444" stroke-width="0.5"/>
<path d="M83.8 170.4L84.7 172.02L82.9 172.02Z" fill="#ddd" stroke="#444" stroke-width="0.5"/>
<rect x="130.8" y="109" width="33.5" height="41.2" fill="#fff" stroke="#999" stroke-width="0.6"/>
<path d="M132.9 114.7L140.3 114.7" stroke="#000" stroke-width="0.7"/>
<rect x="135.05" y="113.15" width="3.1" height="3.1" fill="#000"/>
<text x="142" y="116.85" font-size="6">DIG102</text>
<path d="M132.9 122.5L140.3 122.5" stroke="#888" stroke-width="0.7"/>
<circle cx="136.6" cy="122.5" r="1.55" fill="#fff" stroke="#3a3a3a" stroke-width="0.5"/>
<text x="142" y="124.65" font-size="6">DIG103</text>
<path d="M132.9 130.4L140.3 130.4" stroke="#000" stroke-width="0.7"/>
<path d="M136.6 129.1L137.9 130.4L136.6 131.7L135.3 130.4Z" fill="#000"/>
<text x="142" y="132.55" font-size="6">DIG105</text>
<path d="M132.9 138.7L140.3 138.7" stroke="#888" stroke-width="0.7"/>
<path d="M135.3 138.7H137.9M136.6 137.4V140" fill="none" stroke="#555" stroke-width="0.5"/>
<text x="142" y="140.85" font-size="6">DIG106</text>
<path d="M132.9 146.6L140.3 146.6" stroke="#888" stroke-width="0.7"/>
<path d="M136.6 145.1L138.1 147.8L135.1 147.8Z" fill="#ddd" stroke="#444" stroke-width="0.5"/>
<text x="142" y="148.75" font-size="6">DIG107</text>
<text x="177.3" y="113.2" font-size="11.8">E</text>
<text x="259.8" y="113.4" font-size="6.05" text-anchor="middle">Naive CD8 Cells</text>
<path d="M199.5 126.8L310.7 126.8" stroke="#c4c4c4" stroke-width="0.6"/>
<path d="M199.5 170.5L317.6 170.5" stroke="#777" stroke-width="0.6"/>
<path d="M199.5 126.8L199.5 178.3" stroke="#666" stroke-width="0.7"/>
<path d="M199.2 178L316.6 178" stroke="#666" stroke-width="0.7"/>
<path d="M199.5 178L199.5 179.3" stroke="#666" stroke-width="0.5"/>
<text x="199.5" y="188.6" font-size="6" text-anchor="middle">-300</text>
<path d="M214.14 178L214.14 179.3" stroke="#666" stroke-width="0.5"/>
<text x="214.14" y="188.6" font-size="6" text-anchor="middle">-150</text>
<path d="M228.78 178L228.78 179.3" stroke="#666" stroke-width="0.5"/>
<text x="228.78" y="188.6" font-size="6" text-anchor="middle">0</text>
<path d="M243.41 178L243.41 179.3" stroke="#666" stroke-width="0.5"/>
<text x="243.41" y="188.6" font-size="6" text-anchor="middle">150</text>
<path d="M258.05 178L258.05 179.3" stroke="#666" stroke-width="0.5"/>
<text x="258.05" y="188.6" font-size="6" text-anchor="middle">300</text>
<path d="M272.69 178L272.69 179.3" stroke="#666" stroke-width="0.5"/>
<text x="272.69" y="188.6" font-size="6" text-anchor="middle">450</text>
<path d="M287.33 178L287.33 179.3" stroke="#666" stroke-width="0.5"/>
<text x="287.33" y="188.6" font-size="6" text-anchor="middle">600</text>
<path d="M301.96 178L301.96 179.3" stroke="#666" stroke-width="0.5"/>
<text x="301.96" y="188.6" font-size="6" text-anchor="middle">750</text>
<path d="M316.6 178L316.6 179.3" stroke="#666" stroke-width="0.5"/>
<text x="316.6" y="188.6" font-size="6" text-anchor="middle">900</text>
<path d="M198.2 178L199.5 178" stroke="#666" stroke-width="0.5"/>
<text x="194.5" y="180.15" font-size="6" text-anchor="end">0</text>
<path d="M198.2 169.47L199.5 169.47" stroke="#666" stroke-width="0.5"/>
<text x="194.5" y="171.62" font-size="6" text-anchor="end">100</text>
<path d="M198.2 160.93L199.5 160.93" stroke="#666" stroke-width="0.5"/>
<text x="194.5" y="163.08" font-size="6" text-anchor="end">200</text>
<path d="M198.2 152.4L199.5 152.4" stroke="#666" stroke-width="0.5"/>
<text x="194.5" y="154.55" font-size="6" text-anchor="end">300</text>
<path d="M198.2 143.87L199.5 143.87" stroke="#666" stroke-width="0.5"/>
<text x="194.5" y="146.02" font-size="6" text-anchor="end">400</text>
<path d="M198.2 135.33L199.5 135.33" stroke="#666" stroke-width="0.5"/>
<text x="194.5" y="137.48" font-size="6" text-anchor="end">500</text>
<path d="M198.2 126.8L199.5 126.8" stroke="#666" stroke-width="0.5"/>
<text x="194.5" y="128.95" font-size="6" text-anchor="end">600</text>
<text x="180.3" y="152.6" font-size="6.05" text-anchor="middle" transform="rotate(-90 180.3 152.6)">Cells/mm<tspan font-size="3.8" dy="-2">3</tspan></text>
<text x="258.5" y="194.8" font-size="5.98" text-anchor="middle">Day after Transplantation</text>
<text x="203.2" y="124.9" font-size="5">Low infant</text>
<text x="203.2" y="167.4" font-size="5">Low adult</text>
<polyline points="222,177 228.8,175 240,176.8 262,174 271,166 279.5,167.5 287,170.2" fill="none" stroke="#000" stroke-width="0.5"/>
<circle cx="222" cy="177" r="1.32" fill="#fff" stroke="#3a3a3a" stroke-width="0.5"/>
<circle cx="228.8" cy="175" r="1.32" fill="#fff" stroke="#3a3a3a" stroke-width="0.5"/>
<circle cx="240" cy="176.8" r="1.32" fill="#fff" stroke="#3a3a3a" stroke-width="0.5"/>
<circle cx="262" cy="174" r="1.32" fill="#fff" stroke="#3a3a3a" stroke-width="0.5"/>
<circle cx="271" cy="166" r="1.32" fill="#fff" stroke="#3a3a3a" stroke-width="0.5"/>
<circle cx="279.5" cy="167.5" r="1.32" fill="#fff" stroke="#3a3a3a" stroke-width="0.5"/>
<circle cx="287" cy="170.2" r="1.32" fill="#fff" stroke="#3a3a3a" stroke-width="0.5"/>
<polyline points="221.3,177 225,176.7 228,176.5 232,177 236,177 241,176.6 245,176.3 249,175.8 252,175.5 255,175 258,174.5 262,173.8 265.8,173 273,167 289.1,170.4 314.2,169.7" fill="none" stroke="#000" stroke-width="0.7"/>
<rect x="219.91" y="175.6" width="2.79" height="2.79" fill="#000"/>
<rect x="223.6" y="175.3" width="2.79" height="2.79" fill="#000"/>
<rect x="226.6" y="175.1" width="2.79" height="2.79" fill="#000"/>
<rect x="230.6" y="175.6" width="2.79" height="2.79" fill="#000"/>
<rect x="234.6" y="175.6" width="2.79" height="2.79" fill="#000"/>
<rect x="239.6" y="175.2" width="2.79" height="2.79" fill="#000"/>
<rect x="243.6" y="174.91" width="2.79" height="2.79" fill="#000"/>
<rect x="247.6" y="174.41" width="2.79" height="2.79" fill="#000"/>
<rect x="250.6" y="174.1" width="2.79" height="2.79" fill="#000"/>
<rect x="253.6" y="173.6" width="2.79" height="2.79" fill="#000"/>
<rect x="256.61" y="173.1" width="2.79" height="2.79" fill="#000"/>
<rect x="260.61" y="172.41" width="2.79" height="2.79" fill="#000"/>
<rect x="264.41" y="171.6" width="2.79" height="2.79" fill="#000"/>
<rect x="271.61" y="165.6" width="2.79" height="2.79" fill="#000"/>
<rect x="287.71" y="169" width="2.79" height="2.79" fill="#000"/>
<rect x="312.81" y="168.3" width="2.79" height="2.79" fill="#000"/>
<polyline points="224,177 232,177 240,176.5 248,175.5 256,174.5 262,173.5 268,174 275,175.8" fill="none" stroke="#000" stroke-width="0.6"/>
<path d="M224 175.96L225.04 177L224 178.04L222.96 177Z" fill="#000"/>
<path d="M232 175.96L233.04 177L232 178.04L230.96 177Z" fill="#000"/>
<path d="M240 175.46L241.04 176.5L240 177.54L238.96 176.5Z" fill="#000"/>
<path d="M248 174.46L249.04 175.5L248 176.54L246.96 175.5Z" fill="#000"/>
<path d="M256 173.46L257.04 174.5L256 175.54L254.96 174.5Z" fill="#000"/>
<path d="M262 172.46L263.04 173.5L262 174.54L260.96 173.5Z" fill="#000"/>
<path d="M268 172.96L269.04 174L268 175.04L266.96 174Z" fill="#000"/>
<path d="M275 174.76L276.04 175.8L275 176.84L273.96 175.8Z" fill="#000"/>
<polyline points="222,177 232,176 244,176 254,174 262,172 269.5,164.5 273,167" fill="none" stroke="#5a5a5a" stroke-width="0.5"/>
<path d="M268.2 164.5H270.8M269.5 163.2V165.8" fill="none" stroke="#555" stroke-width="0.5"/>
<polyline points="224,176.5 230,176 236,177 241.3,171.3 246,176 252,175 258,174" fill="none" stroke="#333" stroke-width="0.5"/>
<path d="M224 175.6L224.9 177.22L223.1 177.22Z" fill="#ddd" stroke="#444" stroke-width="0.5"/>
<path d="M230 175.1L230.9 176.72L229.1 176.72Z" fill="#ddd" stroke="#444" stroke-width="0.5"/>
<path d="M236 176.1L236.9 177.72L235.1 177.72Z" fill="#ddd" stroke="#444" stroke-width="0.5"/>
<path d="M241.3 170.4L242.2 172.02L240.4 172.02Z" fill="#ddd" stroke="#444" stroke-width="0.5"/>
<path d="M246 175.1L246.9 176.72L245.1 176.72Z" fill="#ddd" stroke="#444" stroke-width="0.5"/>
<path d="M252 174.1L252.9 175.72L251.1 175.72Z" fill="#ddd" stroke="#444" stroke-width="0.5"/>
<path d="M258 173.1L258.9 174.72L257.1 174.72Z" fill="#ddd" stroke="#444" stroke-width="0.5"/>
<rect x="310.7" y="110.3" width="33.5" height="41.2" fill="#fff" stroke="#999" stroke-width="0.6"/>
<path d="M312.5 115.6L319.9 115.6" stroke="#000" stroke-width="0.7"/>
<rect x="314.65" y="114.05" width="3.1" height="3.1" fill="#000"/>
<text x="322" y="117.75" font-size="6">DIG102</text>
<path d="M312.5 123.5L319.9 123.5" stroke="#888" stroke-width="0.7"/>
<circle cx="316.2" cy="123.5" r="1.55" fill="#fff" stroke="#3a3a3a" stroke-width="0.5"/>
<text x="322" y="125.65" font-size="6">DIG103</text>
<path d="M312.5 131.7L319.9 131.7" stroke="#000" stroke-width="0.7"/>
<path d="M316.2 130.4L317.5 131.7L316.2 133L314.9 131.7Z" fill="#000"/>
<text x="322" y="133.85" font-size="6">DIG105</text>
<path d="M312.5 139.5L319.9 139.5" stroke="#888" stroke-width="0.7"/>
<path d="M314.9 139.5H317.5M316.2 138.2V140.8" fill="none" stroke="#555" stroke-width="0.5"/>
<text x="322" y="141.65" font-size="6">DIG106</text>
<path d="M312.5 147.4L319.9 147.4" stroke="#888" stroke-width="0.7"/>
<path d="M316.2 145.9L317.7 148.6L314.7 148.6Z" fill="#ddd" stroke="#444" stroke-width="0.5"/>
<text x="322" y="149.55" font-size="6">DIG107</text>
<text x="353.3" y="113.2" font-size="11.8">F</text>
<text x="435.5" y="113.4" font-size="5.95" text-anchor="middle">PHA responses</text>
<path d="M387.5 123.1L486.5 123.1" stroke="#c4c4c4" stroke-width="0.6"/>
<path d="M387.5 154.5L515 154.5" stroke="#777" stroke-width="0.6"/>
<path d="M387.5 167.2L512.6 167.2" stroke="#c4c4c4" stroke-width="0.6"/>
<path d="M387.5 124.65L387.5 177" stroke="#666" stroke-width="0.7"/>
<path d="M387.2 176.7L513.1 176.7" stroke="#666" stroke-width="0.7"/>
<path d="M387.5 176.7L387.5 178" stroke="#666" stroke-width="0.5"/>
<text x="387.5" y="187.7" font-size="6" text-anchor="middle">-300</text>
<path d="M403.2 176.7L403.2 178" stroke="#666" stroke-width="0.5"/>
<text x="403.2" y="187.7" font-size="6" text-anchor="middle">-150</text>
<path d="M418.9 176.7L418.9 178" stroke="#666" stroke-width="0.5"/>
<text x="418.9" y="187.7" font-size="6" text-anchor="middle">0</text>
<path d="M434.6 176.7L434.6 178" stroke="#666" stroke-width="0.5"/>
<text x="434.6" y="187.7" font-size="6" text-anchor="middle">150</text>
<path d="M450.3 176.7L450.3 178" stroke="#666" stroke-width="0.5"/>
<text x="450.3" y="187.7" font-size="6" text-anchor="middle">300</text>
<path d="M466 176.7L466 178" stroke="#666" stroke-width="0.5"/>
<text x="466" y="187.7" font-size="6" text-anchor="middle">450</text>
<path d="M481.7 176.7L481.7 178" stroke="#666" stroke-width="0.5"/>
<text x="481.7" y="187.7" font-size="6" text-anchor="middle">600</text>
<path d="M497.4 176.7L497.4 178" stroke="#666" stroke-width="0.5"/>
<text x="497.4" y="187.7" font-size="6" text-anchor="middle">750</text>
<path d="M513.1 176.7L513.1 178" stroke="#666" stroke-width="0.5"/>
<text x="513.1" y="187.7" font-size="6" text-anchor="middle">900</text>
<path d="M386.2 176.7L387.5 176.7" stroke="#666" stroke-width="0.5"/>
<text x="382.7" y="178.85" font-size="6" text-anchor="end">0</text>
<path d="M386.2 166.29L387.5 166.29" stroke="#666" stroke-width="0.5"/>
<text x="382.7" y="168.44" font-size="6" text-anchor="end">100,000</text>
<path d="M386.2 155.88L387.5 155.88" stroke="#666" stroke-width="0.5"/>
<text x="382.7" y="158.03" font-size="6" text-anchor="end">200,000</text>
<path d="M386.2 145.47L387.5 145.47" stroke="#666" stroke-width="0.5"/>
<text x="382.7" y="147.62" font-size="6" text-anchor="end">300,000</text>
<path d="M386.2 135.06L387.5 135.06" stroke="#666" stroke-width="0.5"/>
<text x="382.7" y="137.21" font-size="6" text-anchor="end">400,000</text>
<path d="M386.2 124.65L387.5 124.65" stroke="#666" stroke-width="0.5"/>
<text x="382.7" y="126.8" font-size="6" text-anchor="end">500,000</text>
<text x="358.1" y="145.4" font-size="5.6" text-anchor="middle" transform="rotate(-90 358.1 145.4)">CPM</text>
<text x="449.8" y="196.6" font-size="5.98" text-anchor="middle">Day after Transplantation</text>
<text x="393" y="122.8" font-size="5.3">+2SD</text>
<text x="392.5" y="153.3" font-size="4.9">normal mean</text>
<text x="393.5" y="166.2" font-size="5.3">-2SD</text>
<text x="396" y="130.4" font-size="4.48">Steroid tx for DIG102 nephrotic syndrome</text>
<polyline points="411,174.5 413,173 415,171 416.5,169.6 418,172.5 419.5,174.5 421.5,173.2 423,171.5 424.5,174 426,175.2 427.5,173 429,174.8 430.5,172.5 432.2,173.7 434.3,163 436.3,159.5 440.9,164.3 445.4,151.8 457.4,135.4 465.2,165.1 482.5,152 510,152.5" fill="none" stroke="#000" stroke-width="0.6"/>
<rect x="409.45" y="172.95" width="3.1" height="3.1" fill="#000"/>
<rect x="411.45" y="171.45" width="3.1" height="3.1" fill="#000"/>
<rect x="413.45" y="169.45" width="3.1" height="3.1" fill="#000"/>
<rect x="414.95" y="168.05" width="3.1" height="3.1" fill="#000"/>
<rect x="416.45" y="170.95" width="3.1" height="3.1" fill="#000"/>
<rect x="417.95" y="172.95" width="3.1" height="3.1" fill="#000"/>
<rect x="419.95" y="171.65" width="3.1" height="3.1" fill="#000"/>
<rect x="421.45" y="169.95" width="3.1" height="3.1" fill="#000"/>
<rect x="422.95" y="172.45" width="3.1" height="3.1" fill="#000"/>
<rect x="424.45" y="173.65" width="3.1" height="3.1" fill="#000"/>
<rect x="425.95" y="171.45" width="3.1" height="3.1" fill="#000"/>
<rect x="427.45" y="173.25" width="3.1" height="3.1" fill="#000"/>
<rect x="428.95" y="170.95" width="3.1" height="3.1" fill="#000"/>
<rect x="430.65" y="172.15" width="3.1" height="3.1" fill="#000"/>
<rect x="432.75" y="161.45" width="3.1" height="3.1" fill="#000"/>
<rect x="434.75" y="157.95" width="3.1" height="3.1" fill="#000"/>
<rect x="439.35" y="162.75" width="3.1" height="3.1" fill="#000"/>
<rect x="443.85" y="150.25" width="3.1" height="3.1" fill="#000"/>
<rect x="455.85" y="133.85" width="3.1" height="3.1" fill="#000"/>
<rect x="463.65" y="163.55" width="3.1" height="3.1" fill="#000"/>
<rect x="480.95" y="150.45" width="3.1" height="3.1" fill="#000"/>
<rect x="508.45" y="150.95" width="3.1" height="3.1" fill="#000"/>
<polyline points="392.8,176.7 401.3,176.7 410,176 420,176 428,175.5 434,172 440,163 449.5,157.2 455.3,145.2 461.3,146.3 470.1,146.5" fill="none" stroke="#000" stroke-width="0.6"/>
<circle cx="392.8" cy="176.7" r="1.55" fill="#fff" stroke="#3a3a3a" stroke-width="0.5"/>
<circle cx="401.3" cy="176.7" r="1.55" fill="#fff" stroke="#3a3a3a" stroke-width="0.5"/>
<circle cx="410" cy="176" r="1.55" fill="#fff" stroke="#3a3a3a" stroke-width="0.5"/>
<circle cx="420" cy="176" r="1.55" fill="#fff" stroke="#3a3a3a" stroke-width="0.5"/>
<circle cx="428" cy="175.5" r="1.55" fill="#fff" stroke="#3a3a3a" stroke-width="0.5"/>
<circle cx="434" cy="172" r="1.55" fill="#fff" stroke="#3a3a3a" stroke-width="0.5"/>
<circle cx="440" cy="163" r="1.55" fill="#fff" stroke="#3a3a3a" stroke-width="0.5"/>
<circle cx="449.5" cy="157.2" r="1.55" fill="#fff" stroke="#3a3a3a" stroke-width="0.5"/>
<circle cx="455.3" cy="145.2" r="1.55" fill="#fff" stroke="#3a3a3a" stroke-width="0.5"/>
<circle cx="461.3" cy="146.3" r="1.55" fill="#fff" stroke="#3a3a3a" stroke-width="0.5"/>
<circle cx="470.1" cy="146.5" r="1.55" fill="#fff" stroke="#3a3a3a" stroke-width="0.5"/>
<polyline points="412,175 416,170 420,173 424,171 428,174 432,172 436,158.4 440,152 444.2,144.5 457.4,135.4 467.7,160.5" fill="none" stroke="#000" stroke-width="0.6"/>
<path d="M412 173.7L413.3 175L412 176.3L410.7 175Z" fill="#000"/>
<path d="M416 168.7L417.3 170L416 171.3L414.7 170Z" fill="#000"/>
<path d="M420 171.7L421.3 173L420 174.3L418.7 173Z" fill="#000"/>
<path d="M424 169.7L425.3 171L424 172.3L422.7 171Z" fill="#000"/>
<path d="M428 172.7L429.3 174L428 175.3L426.7 174Z" fill="#000"/>
<path d="M432 170.7L433.3 172L432 173.3L430.7 172Z" fill="#000"/>
<path d="M436 157.1L437.3 158.4L436 159.7L434.7 158.4Z" fill="#000"/>
<path d="M440 150.7L441.3 152L440 153.3L438.7 152Z" fill="#000"/>
<path d="M444.2 143.2L445.5 144.5L444.2 145.8L442.9 144.5Z" fill="#000"/>
<path d="M457.4 134.1L458.7 135.4L457.4 136.7L456.1 135.4Z" fill="#000"/>
<path d="M467.7 159.2L469 160.5L467.7 161.8L466.4 160.5Z" fill="#000"/>
<polyline points="412,174 420,173 428,174 434,170 440,160 446,150 452,144 460,141 464,152" fill="none" stroke="#5a5a5a" stroke-width="0.5"/>
<path d="M458.7 141H461.3M460 139.7V142.3" fill="none" stroke="#555" stroke-width="0.5"/>
<path d="M461.9 133.5L461.9 137.8" stroke="#333" stroke-width="0.6"/>
<path d="M463.5 140.7L467 140.7" stroke="#5a5a5a" stroke-width="0.5"/>
<polyline points="414,174 420,172 426,174 432,173 438,165 444,154 450,146 457.8,160.5" fill="none" stroke="#333" stroke-width="0.5"/>
<path d="M414 173.1L414.9 174.72L413.1 174.72Z" fill="#ddd" stroke="#444" stroke-width="0.5"/>
<path d="M420 171.1L420.9 172.72L419.1 172.72Z" fill="#ddd" stroke="#444" stroke-width="0.5"/>
<path d="M426 173.1L426.9 174.72L425.1 174.72Z" fill="#ddd" stroke="#444" stroke-width="0.5"/>
<path d="M432 172.1L432.9 173.72L431.1 173.72Z" fill="#ddd" stroke="#444" stroke-width="0.5"/>
<path d="M438 164.1L438.9 165.72L437.1 165.72Z" fill="#ddd" stroke="#444" stroke-width="0.5"/>
<path d="M444 153.1L444.9 154.72L443.1 154.72Z" fill="#ddd" stroke="#444" stroke-width="0.5"/>
<path d="M450 145.1L450.9 146.72L449.1 146.72Z" fill="#ddd" stroke="#444" stroke-width="0.5"/>
<path d="M457.8 159.6L458.7 161.22L456.9 161.22Z" fill="#ddd" stroke="#444" stroke-width="0.5"/>
<rect x="486.5" y="105.4" width="35" height="40.8" fill="#fff" stroke="#999" stroke-width="0.6"/>
<path d="M487.8 110.2L495.2 110.2" stroke="#000" stroke-width="0.7"/>
<rect x="489.95" y="108.65" width="3.1" height="3.1" fill="#000"/>
<text x="497.2" y="112.35" font-size="6">DIG102</text>
<path d="M487.8 117.8L495.2 117.8" stroke="#888" stroke-width="0.7"/>
<circle cx="491.5" cy="117.8" r="1.55" fill="#fff" stroke="#3a3a3a" stroke-width="0.5"/>
<text x="497.2" y="119.95" font-size="6">DIG103</text>
<path d="M487.8 126.1L495.2 126.1" stroke="#000" stroke-width="0.7"/>
<path d="M491.5 124.8L492.8 126.1L491.5 127.4L490.2 126.1Z" fill="#000"/>
<text x="497.2" y="128.25" font-size="6">DIG105</text>
<path d="M487.8 134.3L495.2 134.3" stroke="#888" stroke-width="0.7"/>
<path d="M490.2 134.3H492.8M491.5 133V135.6" fill="none" stroke="#555" stroke-width="0.5"/>
<text x="497.2" y="136.45" font-size="6">DIG106</text>
<path d="M487.8 142.6L495.2 142.6" stroke="#888" stroke-width="0.7"/>
<path d="M491.5 141.1L493 143.8L490 143.8Z" fill="#ddd" stroke="#444" stroke-width="0.5"/>
<text x="497.2" y="144.75" font-size="6">DIG107</text>
<text x="1" y="218.5" font-size="11.8">G</text>
<text x="84" y="217.6" font-size="5.95" text-anchor="middle">Absolute Eosinophil Count</text>
<path d="M27.8 231L27.8 282.8" stroke="#aaa" stroke-width="0.7"/>
<path d="M27.5 282.5L142.6 282.5" stroke="#aaa" stroke-width="0.7"/>
<path d="M27.8 282.5L27.8 283.8" stroke="#aaa" stroke-width="0.5"/>
<text x="27.8" y="293.4" font-size="6" text-anchor="middle">-180</text>
<path d="M44.2 282.5L44.2 283.8" stroke="#aaa" stroke-width="0.5"/>
<text x="44.2" y="293.4" font-size="6" text-anchor="middle">0</text>
<path d="M60.6 282.5L60.6 283.8" stroke="#aaa" stroke-width="0.5"/>
<text x="60.6" y="293.4" font-size="6" text-anchor="middle">180</text>
<path d="M77 282.5L77 283.8" stroke="#aaa" stroke-width="0.5"/>
<text x="77" y="293.4" font-size="6" text-anchor="middle">360</text>
<path d="M93.4 282.5L93.4 283.8" stroke="#aaa" stroke-width="0.5"/>
<text x="93.4" y="293.4" font-size="6" text-anchor="middle">540</text>
<path d="M109.8 282.5L109.8 283.8" stroke="#aaa" stroke-width="0.5"/>
<text x="109.8" y="293.4" font-size="6" text-anchor="middle">720</text>
<path d="M126.2 282.5L126.2 283.8" stroke="#aaa" stroke-width="0.5"/>
<text x="126.2" y="293.4" font-size="6" text-anchor="middle">900</text>
<path d="M142.6 282.5L142.6 283.8" stroke="#aaa" stroke-width="0.5"/>
<text x="142.6" y="293.4" font-size="6" text-anchor="middle">1080</text>
<path d="M26.5 282.5L27.8 282.5" stroke="#aaa" stroke-width="0.5"/>
<text x="22.4" y="284.65" font-size="6" text-anchor="end">0</text>
<path d="M26.5 272.2L27.8 272.2" stroke="#aaa" stroke-width="0.5"/>
<text x="22.4" y="274.35" font-size="6" text-anchor="end">1,000</text>
<path d="M26.5 261.9L27.8 261.9" stroke="#aaa" stroke-width="0.5"/>
<text x="22.4" y="264.05" font-size="6" text-anchor="end">2,000</text>
<path d="M26.5 251.6L27.8 251.6" stroke="#aaa" stroke-width="0.5"/>
<text x="22.4" y="253.75" font-size="6" text-anchor="end">3,000</text>
<path d="M26.5 241.3L27.8 241.3" stroke="#aaa" stroke-width="0.5"/>
<text x="22.4" y="243.45" font-size="6" text-anchor="end">4,000</text>
<path d="M26.5 231L27.8 231" stroke="#aaa" stroke-width="0.5"/>
<text x="22.4" y="233.15" font-size="6" text-anchor="end">5,000</text>
<text x="6" y="262.5" font-size="6.05" text-anchor="middle" transform="rotate(-90 6 262.5)">Cells/mm<tspan font-size="3.8" dy="-2">3</tspan></text>
<text x="85.4" y="300.8" font-size="5.98" text-anchor="middle">Day after Transplantation</text>
<path d="M29.3 231.4L29.3 279" stroke="#bbb" stroke-width="0.6"/>
<path d="M37.2 231.4L37.2 279" stroke="#bbb" stroke-width="0.6"/>
<path d="M40 231.4L40 279" stroke="#bbb" stroke-width="0.6"/>
<path d="M47.5 231.4L47.5 279" stroke="#bbb" stroke-width="0.6"/>
<path d="M55 231.4L55 279" stroke="#bbb" stroke-width="0.6"/>
<polyline points="27.8,275.4 31,277.5 35.7,279.7 37.9,270 38.8,279 40,261.5 40.6,272 41.2,252 41.7,262 42.2,240 42.6,233.6 43,246 43.4,236 43.8,252 44.2,238 44.7,233.6 45.1,250 45.6,244 46,262 46.5,257 47,270 47.5,276.5 48,266 48.6,258 49.2,263 49.8,252 50.4,257 51,250.7 51.6,255 52.2,251.5 52.9,257 53.5,253 54,263 54.6,259 55.2,272 56,266 56.5,276 57,271.4 58.3,276 59.6,268 60.5,276 61,272 62,279 63.5,276 65,279.5 67,277 69,280 71,277.5 73,280 75.5,277 76.9,271.4 78.3,279 81,277 83,280 86,278 89,280 91,278 92.5,274.9 95.1,272.3 96.5,279 99.5,279 102.9,277.1 104.5,280 108,279.4 123.8,264 127.4,273.3" fill="none" stroke="#000" stroke-width="0.7"/>
<circle cx="27.8" cy="275.4" r="0.95" fill="#000"/>
<circle cx="31" cy="277.5" r="0.95" fill="#000"/>
<circle cx="35.7" cy="279.7" r="0.95" fill="#000"/>
<circle cx="37.9" cy="270" r="0.95" fill="#000"/>
<circle cx="38.8" cy="279" r="0.95" fill="#000"/>
<circle cx="40" cy="261.5" r="0.95" fill="#000"/>
<circle cx="40.6" cy="272" r="0.95" fill="#000"/>
<circle cx="41.2" cy="252" r="0.95" fill="#000"/>
<circle cx="41.7" cy="262" r="0.95" fill="#000"/>
<circle cx="42.2" cy="240" r="0.95" fill="#000"/>
<circle cx="42.6" cy="233.6" r="0.95" fill="#000"/>
<circle cx="43" cy="246" r="0.95" fill="#000"/>
<circle cx="43.4" cy="236" r="0.95" fill="#000"/>
<circle cx="43.8" cy="252" r="0.95" fill="#000"/>
<circle cx="44.2" cy="238" r="0.95" fill="#000"/>
<circle cx="44.7" cy="233.6" r="0.95" fill="#000"/>
<circle cx="45.1" cy="250" r="0.95" fill="#000"/>
<circle cx="45.6" cy="244" r="0.95" fill="#000"/>
<circle cx="46" cy="262" r="0.95" fill="#000"/>
<circle cx="46.5" cy="257" r="0.95" fill="#000"/>
<circle cx="47" cy="270" r="0.95" fill="#000"/>
<circle cx="47.5" cy="276.5" r="0.95" fill="#000"/>
<circle cx="48" cy="266" r="0.95" fill="#000"/>
<circle cx="48.6" cy="258" r="0.95" fill="#000"/>
<circle cx="49.2" cy="263" r="0.95" fill="#000"/>
<circle cx="49.8" cy="252" r="0.95" fill="#000"/>
<circle cx="50.4" cy="257" r="0.95" fill="#000"/>
<circle cx="51" cy="250.7" r="0.95" fill="#000"/>
<circle cx="51.6" cy="255" r="0.95" fill="#000"/>
<circle cx="52.2" cy="251.5" r="0.95" fill="#000"/>
<circle cx="52.9" cy="257" r="0.95" fill="#000"/>
<circle cx="53.5" cy="253" r="0.95" fill="#000"/>
<circle cx="54" cy="263" r="0.95" fill="#000"/>
<circle cx="54.6" cy="259" r="0.95" fill="#000"/>
<circle cx="55.2" cy="272" r="0.95" fill="#000"/>
<circle cx="56" cy="266" r="0.95" fill="#000"/>
<circle cx="56.5" cy="276" r="0.95" fill="#000"/>
<circle cx="57" cy="271.4" r="0.95" fill="#000"/>
<circle cx="58.3" cy="276" r="0.95" fill="#000"/>
<circle cx="59.6" cy="268" r="0.95" fill="#000"/>
<circle cx="60.5" cy="276" r="0.95" fill="#000"/>
<circle cx="61" cy="272" r="0.95" fill="#000"/>
<circle cx="62" cy="279" r="0.95" fill="#000"/>
<circle cx="63.5" cy="276" r="0.95" fill="#000"/>
<circle cx="65" cy="279.5" r="0.95" fill="#000"/>
<circle cx="67" cy="277" r="0.95" fill="#000"/>
<circle cx="69" cy="280" r="0.95" fill="#000"/>
<circle cx="71" cy="277.5" r="0.95" fill="#000"/>
<circle cx="73" cy="280" r="0.95" fill="#000"/>
<circle cx="75.5" cy="277" r="0.95" fill="#000"/>
<circle cx="76.9" cy="271.4" r="0.95" fill="#000"/>
<circle cx="78.3" cy="279" r="0.95" fill="#000"/>
<circle cx="81" cy="277" r="0.95" fill="#000"/>
<circle cx="83" cy="280" r="0.95" fill="#000"/>
<circle cx="86" cy="278" r="0.95" fill="#000"/>
<circle cx="89" cy="280" r="0.95" fill="#000"/>
<circle cx="91" cy="278" r="0.95" fill="#000"/>
<circle cx="92.5" cy="274.9" r="0.95" fill="#000"/>
<circle cx="95.1" cy="272.3" r="0.95" fill="#000"/>
<circle cx="96.5" cy="279" r="0.95" fill="#000"/>
<circle cx="99.5" cy="279" r="0.95" fill="#000"/>
<circle cx="102.9" cy="277.1" r="0.95" fill="#000"/>
<circle cx="104.5" cy="280" r="0.95" fill="#000"/>
<circle cx="108" cy="279.4" r="0.95" fill="#000"/>
<circle cx="123.8" cy="264" r="0.95" fill="#000"/>
<circle cx="127.4" cy="273.3" r="0.95" fill="#000"/>
<polyline points="40.5,280 41.5,268 42.4,250 43.2,258 44,244 44.9,262 45.8,254 46.6,272 47.8,279 49,270 50,262 51.2,268 52.4,260 53.6,268 55,279" fill="none" stroke="#111" stroke-width="0.6"/>
<circle cx="40.5" cy="280" r="0.85" fill="#000"/>
<circle cx="41.5" cy="268" r="0.85" fill="#000"/>
<circle cx="42.4" cy="250" r="0.85" fill="#000"/>
<circle cx="43.2" cy="258" r="0.85" fill="#000"/>
<circle cx="44" cy="244" r="0.85" fill="#000"/>
<circle cx="44.9" cy="262" r="0.85" fill="#000"/>
<circle cx="45.8" cy="254" r="0.85" fill="#000"/>
<circle cx="46.6" cy="272" r="0.85" fill="#000"/>
<circle cx="47.8" cy="279" r="0.85" fill="#000"/>
<circle cx="49" cy="270" r="0.85" fill="#000"/>
<circle cx="50" cy="262" r="0.85" fill="#000"/>
<circle cx="51.2" cy="268" r="0.85" fill="#000"/>
<circle cx="52.4" cy="260" r="0.85" fill="#000"/>
<circle cx="53.6" cy="268" r="0.85" fill="#000"/>
<circle cx="55" cy="279" r="0.85" fill="#000"/>
<polyline points="36,280 38,281.5 40,281 42,281.5 44,280.5 46,281.5 48,280.5 50,281.5 52,280 54,281.5 56,280.5 58,281.5 60,280 62,281.5 64,280.5 66,281.5 68,280.5 70,281.5 72,280.5 74,281.5 76,280 78,281.5 80,280.5 82,281.5 84,280.5 86,281.5 88,280.5 90,281.5" fill="none" stroke="#222" stroke-width="0.6"/>
<circle cx="36" cy="280" r="0.95" fill="#000"/>
<circle cx="38" cy="281.5" r="0.95" fill="#000"/>
<circle cx="40" cy="281" r="0.95" fill="#000"/>
<circle cx="42" cy="281.5" r="0.95" fill="#000"/>
<circle cx="44" cy="280.5" r="0.95" fill="#000"/>
<circle cx="46" cy="281.5" r="0.95" fill="#000"/>
<circle cx="48" cy="280.5" r="0.95" fill="#000"/>
<circle cx="50" cy="281.5" r="0.95" fill="#000"/>
<circle cx="52" cy="280" r="0.95" fill="#000"/>
<circle cx="54" cy="281.5" r="0.95" fill="#000"/>
<circle cx="56" cy="280.5" r="0.95" fill="#000"/>
<circle cx="58" cy="281.5" r="0.95" fill="#000"/>
<circle cx="60" cy="280" r="0.95" fill="#000"/>
<circle cx="62" cy="281.5" r="0.95" fill="#000"/>
<circle cx="64" cy="280.5" r="0.95" fill="#000"/>
<circle cx="66" cy="281.5" r="0.95" fill="#000"/>
<circle cx="68" cy="280.5" r="0.95" fill="#000"/>
<circle cx="70" cy="281.5" r="0.95" fill="#000"/>
<circle cx="72" cy="280.5" r="0.95" fill="#000"/>
<circle cx="74" cy="281.5" r="0.95" fill="#000"/>
<circle cx="76" cy="280" r="0.95" fill="#000"/>
<circle cx="78" cy="281.5" r="0.95" fill="#000"/>
<circle cx="80" cy="280.5" r="0.95" fill="#000"/>
<circle cx="82" cy="281.5" r="0.95" fill="#000"/>
<circle cx="84" cy="280.5" r="0.95" fill="#000"/>
<circle cx="86" cy="281.5" r="0.95" fill="#000"/>
<circle cx="88" cy="280.5" r="0.95" fill="#000"/>
<circle cx="90" cy="281.5" r="0.95" fill="#000"/>
<polyline points="28,279 30,281 32,279.5 34,281.5 36,280 38,281.5 40,281 42,281.5 44,280.5 46,281.5 48,280.5 50,281.5 52,280 54,281.5 56,280.5 58,281.5 60,280 62,281.5 64,280.5 66,281.5 68,280.5 70,281.5 72,280.5 74,281.5 76,280 78,281.5 80,280.5 82,281.5 84,280.5 86,281.5 88,280.5 90,281.5 92,280 94,281 96,280.5 98,281.5 100,281" fill="none" stroke="#333" stroke-width="0.5"/>
<circle cx="28" cy="279" r="0.7" fill="#000"/>
<circle cx="30" cy="281" r="0.7" fill="#000"/>
<circle cx="32" cy="279.5" r="0.7" fill="#000"/>
<circle cx="34" cy="281.5" r="0.7" fill="#000"/>
<circle cx="36" cy="280" r="0.7" fill="#000"/>
<circle cx="38" cy="281.5" r="0.7" fill="#000"/>
<circle cx="40" cy="281" r="0.7" fill="#000"/>
<circle cx="42" cy="281.5" r="0.7" fill="#000"/>
<circle cx="44" cy="280.5" r="0.7" fill="#000"/>
<circle cx="46" cy="281.5" r="0.7" fill="#000"/>
<circle cx="48" cy="280.5" r="0.7" fill="#000"/>
<circle cx="50" cy="281.5" r="0.7" fill="#000"/>
<circle cx="52" cy="280" r="0.7" fill="#000"/>
<circle cx="54" cy="281.5" r="0.7" fill="#000"/>
<circle cx="56" cy="280.5" r="0.7" fill="#000"/>
<circle cx="58" cy="281.5" r="0.7" fill="#000"/>
<circle cx="60" cy="280" r="0.7" fill="#000"/>
<circle cx="62" cy="281.5" r="0.7" fill="#000"/>
<circle cx="64" cy="280.5" r="0.7" fill="#000"/>
<circle cx="66" cy="281.5" r="0.7" fill="#000"/>
<circle cx="68" cy="280.5" r="0.7" fill="#000"/>
<circle cx="70" cy="281.5" r="0.7" fill="#000"/>
<circle cx="72" cy="280.5" r="0.7" fill="#000"/>
<circle cx="74" cy="281.5" r="0.7" fill="#000"/>
<circle cx="76" cy="280" r="0.7" fill="#000"/>
<circle cx="78" cy="281.5" r="0.7" fill="#000"/>
<circle cx="80" cy="280.5" r="0.7" fill="#000"/>
<circle cx="82" cy="281.5" r="0.7" fill="#000"/>
<circle cx="84" cy="280.5" r="0.7" fill="#000"/>
<circle cx="86" cy="281.5" r="0.7" fill="#000"/>
<circle cx="88" cy="280.5" r="0.7" fill="#000"/>
<circle cx="90" cy="281.5" r="0.7" fill="#000"/>
<circle cx="92" cy="280" r="0.7" fill="#000"/>
<circle cx="94" cy="281" r="0.7" fill="#000"/>
<circle cx="96" cy="280.5" r="0.7" fill="#000"/>
<circle cx="98" cy="281.5" r="0.7" fill="#000"/>
<circle cx="100" cy="281" r="0.7" fill="#000"/>
<polyline points="36,278.4 37.3,280.2 38.6,278.4 39.9,280.2 41.2,278.4 42.5,280.2 43.8,278.4 45.1,280.2 46.4,278.4 47.7,280.2 49,278.4 50.3,280.2 51.6,278.4 52.9,280.2 54.2,278.4 55.5,280.2 56.8,278.4 58.1,280.2 59.4,278.4 60.7,280.2 62,278.4 63.3,280.2 64.6,278.4 65.9,280.2 67.2,278.4 68.5,280.2 69.8,278.4 71.1,280.2 72.4,278.4 73.7,280.2 75,278.4 76.3,280.2 77.6,278.4 78.9,280.2 80.2,278.4 81.5,280.2 82.8,278.4 84.1,280.2 85.4,278.4 86.7,280.2 88,278.4 89.3,280.2" fill="none" stroke="#222" stroke-width="0.5"/>
<circle cx="36" cy="278.4" r="0.75" fill="#000"/>
<circle cx="37.3" cy="280.2" r="0.75" fill="#000"/>
<circle cx="38.6" cy="278.4" r="0.75" fill="#000"/>
<circle cx="39.9" cy="280.2" r="0.75" fill="#000"/>
<circle cx="41.2" cy="278.4" r="0.75" fill="#000"/>
<circle cx="42.5" cy="280.2" r="0.75" fill="#000"/>
<circle cx="43.8" cy="278.4" r="0.75" fill="#000"/>
<circle cx="45.1" cy="280.2" r="0.75" fill="#000"/>
<circle cx="46.4" cy="278.4" r="0.75" fill="#000"/>
<circle cx="47.7" cy="280.2" r="0.75" fill="#000"/>
<circle cx="49" cy="278.4" r="0.75" fill="#000"/>
<circle cx="50.3" cy="280.2" r="0.75" fill="#000"/>
<circle cx="51.6" cy="278.4" r="0.75" fill="#000"/>
<circle cx="52.9" cy="280.2" r="0.75" fill="#000"/>
<circle cx="54.2" cy="278.4" r="0.75" fill="#000"/>
<circle cx="55.5" cy="280.2" r="0.75" fill="#000"/>
<circle cx="56.8" cy="278.4" r="0.75" fill="#000"/>
<circle cx="58.1" cy="280.2" r="0.75" fill="#000"/>
<circle cx="59.4" cy="278.4" r="0.75" fill="#000"/>
<circle cx="60.7" cy="280.2" r="0.75" fill="#000"/>
<circle cx="62" cy="278.4" r="0.75" fill="#000"/>
<circle cx="63.3" cy="280.2" r="0.75" fill="#000"/>
<circle cx="64.6" cy="278.4" r="0.75" fill="#000"/>
<circle cx="65.9" cy="280.2" r="0.75" fill="#000"/>
<circle cx="67.2" cy="278.4" r="0.75" fill="#000"/>
<circle cx="68.5" cy="280.2" r="0.75" fill="#000"/>
<circle cx="69.8" cy="278.4" r="0.75" fill="#000"/>
<circle cx="71.1" cy="280.2" r="0.75" fill="#000"/>
<circle cx="72.4" cy="278.4" r="0.75" fill="#000"/>
<circle cx="73.7" cy="280.2" r="0.75" fill="#000"/>
<circle cx="75" cy="278.4" r="0.75" fill="#000"/>
<circle cx="76.3" cy="280.2" r="0.75" fill="#000"/>
<circle cx="77.6" cy="278.4" r="0.75" fill="#000"/>
<circle cx="78.9" cy="280.2" r="0.75" fill="#000"/>
<circle cx="80.2" cy="278.4" r="0.75" fill="#000"/>
<circle cx="81.5" cy="280.2" r="0.75" fill="#000"/>
<circle cx="82.8" cy="278.4" r="0.75" fill="#000"/>
<circle cx="84.1" cy="280.2" r="0.75" fill="#000"/>
<circle cx="85.4" cy="278.4" r="0.75" fill="#000"/>
<circle cx="86.7" cy="280.2" r="0.75" fill="#000"/>
<circle cx="88" cy="278.4" r="0.75" fill="#000"/>
<circle cx="89.3" cy="280.2" r="0.75" fill="#000"/>
<rect x="131.3" y="219.9" width="30.3" height="40.8" fill="#fff" stroke="#999" stroke-width="0.6"/>
<path d="M133.2 225.2L138.2 225.2" stroke="#000" stroke-width="0.7"/>
<circle cx="135.7" cy="225.2" r="0.8" fill="#000"/>
<text x="140.2" y="227.35" font-size="5.9">DIG102</text>
<path d="M133.2 233.5L138.2 233.5" stroke="#333" stroke-width="0.7"/>
<text x="140.2" y="235.65" font-size="5.9">DIG103</text>
<path d="M133.2 241.7L138.2 241.7" stroke="#333" stroke-width="0.7"/>
<circle cx="135.7" cy="241.7" r="0.8" fill="#000"/>
<text x="140.2" y="243.85" font-size="5.9">DIG105</text>
<path d="M133.2 250L138.2 250" stroke="#bbb" stroke-width="0.7"/>
<text x="140.2" y="252.15" font-size="5.9">DIG106</text>
<path d="M133.2 257.4L138.2 257.4" stroke="#000" stroke-width="0.7"/>
<circle cx="135.7" cy="257.4" r="0.8" fill="#000"/>
<text x="140.2" y="259.55" font-size="5.9">DIG107</text>
<text x="177.3" y="218.2" font-size="11.8">H</text>
<text x="254.8" y="217.6" font-size="5.95" text-anchor="middle">TRECs</text>
<path d="M208 231.3L208 280.1" stroke="#aaa" stroke-width="0.7"/>
<path d="M207.7 279.8L319.8 279.8" stroke="#aaa" stroke-width="0.7"/>
<path d="M208 279.8L208 281.1" stroke="#aaa" stroke-width="0.5"/>
<text x="208" y="290.5" font-size="6" text-anchor="middle">-150</text>
<path d="M230.36 279.8L230.36 281.1" stroke="#aaa" stroke-width="0.5"/>
<text x="230.36" y="290.5" font-size="6" text-anchor="middle">0</text>
<path d="M252.72 279.8L252.72 281.1" stroke="#aaa" stroke-width="0.5"/>
<text x="252.72" y="290.5" font-size="6" text-anchor="middle">150</text>
<path d="M275.08 279.8L275.08 281.1" stroke="#aaa" stroke-width="0.5"/>
<text x="275.08" y="290.5" font-size="6" text-anchor="middle">300</text>
<path d="M297.44 279.8L297.44 281.1" stroke="#aaa" stroke-width="0.5"/>
<text x="297.44" y="290.5" font-size="6" text-anchor="middle">450</text>
<path d="M319.8 279.8L319.8 281.1" stroke="#aaa" stroke-width="0.5"/>
<text x="319.8" y="290.5" font-size="6" text-anchor="middle">600</text>
<path d="M206.7 279.8L208 279.8" stroke="#aaa" stroke-width="0.5"/>
<text x="203.2" y="281.95" font-size="6" text-anchor="end">0</text>
<path d="M206.7 267.68L208 267.68" stroke="#aaa" stroke-width="0.5"/>
<text x="203.2" y="269.82" font-size="6" text-anchor="end">4,000</text>
<path d="M206.7 255.55L208 255.55" stroke="#aaa" stroke-width="0.5"/>
<text x="203.2" y="257.7" font-size="6" text-anchor="end">8,000</text>
<path d="M206.7 243.43L208 243.43" stroke="#aaa" stroke-width="0.5"/>
<text x="203.2" y="245.58" font-size="6" text-anchor="end">12,000</text>
<path d="M206.7 231.3L208 231.3" stroke="#aaa" stroke-width="0.5"/>
<text x="203.2" y="233.45" font-size="6" text-anchor="end">16,000</text>
<text x="181" y="257.9" font-size="5.8" text-anchor="middle" transform="rotate(-90 181 257.9)">#/mm<tspan font-size="3.8" dy="-2">3</tspan></text>
<text x="263.1" y="300.1" font-size="5.98" text-anchor="middle">Day after Transplantation</text>
<polyline points="266,279.5 284.6,235.3" fill="none" stroke="#666" stroke-width="0.7"/>
<path d="M284.6 234.62L285.28 235.84L283.93 235.84Z" fill="#ddd" stroke="#444" stroke-width="0.5"/>
<polyline points="219.8,279.5 249.6,279 285.2,263.6 303.5,254.9" fill="none" stroke="#666" stroke-width="0.7"/>
<circle cx="303.5" cy="254.9" r="1.32" fill="#fff" stroke="#3a3a3a" stroke-width="0.5"/>
<path d="M285.2 262.76L286.24 263.8L285.2 264.84L284.16 263.8Z" fill="#000"/>
<polyline points="249.6,279.3 266,279.3" fill="none" stroke="#888" stroke-width="0.6"/>
<polyline points="226.5,279.5 276.2,276.5" fill="none" stroke="#000" stroke-width="0.8"/>
<circle cx="276.2" cy="276.5" r="1.35" fill="#000"/>
<circle cx="226.5" cy="279.4" r="1.24" fill="#fff" stroke="#3a3a3a" stroke-width="0.5"/>
<circle cx="249.6" cy="279.3" r="1.08" fill="#fff" stroke="#3a3a3a" stroke-width="0.5"/>
<path d="M261.5 277.5L262.4 279.12L260.6 279.12Z" fill="#ddd" stroke="#444" stroke-width="0.5"/>
<circle cx="222" cy="279.5" r="0.6" fill="#000"/>
<rect x="306.3" y="220.3" width="32.6" height="39.9" fill="#fff" stroke="#999" stroke-width="0.6"/>
<path d="M308.8 225.2L316.2 225.2" stroke="#000" stroke-width="0.7"/>
<circle cx="312.5" cy="225.2" r="0.8" fill="#000"/>
<text x="317" y="227.35" font-size="6">DIG102</text>
<path d="M308.8 233.5L316.2 233.5" stroke="#888" stroke-width="0.7"/>
<circle cx="312.5" cy="233.5" r="1.24" fill="#fff" stroke="#3a3a3a" stroke-width="0.5"/>
<text x="317" y="235.65" font-size="6">DIG103</text>
<path d="M308.8 241.4L316.2 241.4" stroke="#000" stroke-width="0.7"/>
<path d="M312.5 240.36L313.54 241.4L312.5 242.44L311.46 241.4Z" fill="#000"/>
<text x="317" y="243.55" font-size="6">DIG105</text>
<path d="M308.8 249.6L316.2 249.6" stroke="#999" stroke-width="0.7"/>
<text x="317" y="251.75" font-size="6">DIG106</text>
<path d="M308.8 257.4L316.2 257.4" stroke="#555" stroke-width="0.7"/>
<path d="M312.5 256.2L313.7 258.36L311.3 258.36Z" fill="#ddd" stroke="#444" stroke-width="0.5"/>
<text x="317" y="259.55" font-size="6">DIG107</text>
</g>
</svg>
</body></html>
